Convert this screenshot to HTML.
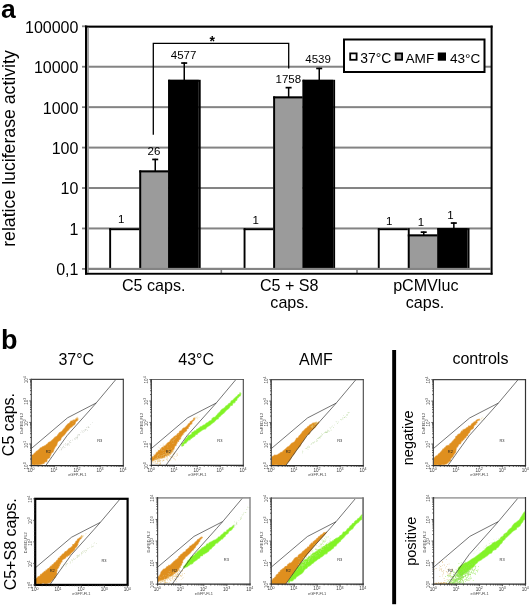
<!DOCTYPE html>
<html><head><meta charset="utf-8"><style>
html,body{margin:0;padding:0;background:#fff;width:530px;height:606px;overflow:hidden}
svg{display:block;will-change:transform}
text{font-family:"Liberation Sans",sans-serif}
</style></head><body>
<svg width="530" height="606" viewBox="0 0 530 606">
<rect width="530" height="606" fill="#fff"/>
<rect x="88" y="65.73" width="403" height="2" fill="#838383"/>
<rect x="88" y="106.16" width="403" height="2" fill="#838383"/>
<rect x="88" y="146.59" width="403" height="2" fill="#838383"/>
<rect x="88" y="187.02" width="403" height="2" fill="#838383"/>
<rect x="88" y="227.45" width="403" height="2" fill="#838383"/>
<rect x="88" y="267.88" width="403" height="2" fill="#838383"/>
<rect x="82" y="25.40" width="4" height="1.8" fill="#838383"/>
<rect x="82" y="65.83" width="4" height="1.8" fill="#838383"/>
<rect x="82" y="106.26" width="4" height="1.8" fill="#838383"/>
<rect x="82" y="146.69" width="4" height="1.8" fill="#838383"/>
<rect x="82" y="187.12" width="4" height="1.8" fill="#838383"/>
<rect x="82" y="227.55" width="4" height="1.8" fill="#838383"/>
<rect x="82" y="267.98" width="4" height="1.8" fill="#838383"/>
<rect x="220.5" y="269" width="1.6" height="4" fill="#838383"/>
<rect x="356.2" y="269" width="1.6" height="4" fill="#838383"/>
<rect x="85" y="25.6" width="407.6" height="2.1" fill="#000"/>
<rect x="85" y="25.6" width="2.3" height="249" fill="#000"/>
<rect x="87.3" y="27.7" width="1.6" height="245" fill="#9a9a9a"/>
<rect x="490.6" y="25.6" width="2" height="249" fill="#000"/>
<rect x="85" y="272.8" width="407.6" height="1.9" fill="#000"/>
<rect x="109.2" y="228.2" width="30.10000000000001" height="40.80000000000001" fill="#fff"/>
<rect x="139.3" y="170.4" width="28.899999999999977" height="98.6" fill="#9b9b9b"/>
<rect x="168.2" y="79.8" width="30.600000000000023" height="189.2" fill="#000"/>
<rect x="109.2" y="228.2" width="30.10000000000001" height="2" fill="#000"/>
<rect x="139.3" y="170.4" width="28.899999999999977" height="2" fill="#000"/>
<rect x="168.2" y="79.8" width="30.600000000000023" height="2" fill="#000"/>
<rect x="109.2" y="228.2" width="1.9" height="40.80000000000001" fill="#000"/>
<rect x="139.3" y="170.4" width="1.9" height="98.6" fill="#000"/>
<rect x="168.2" y="79.8" width="1.9" height="189.2" fill="#000"/>
<rect x="198.8" y="79.8" width="1.9" height="189.2" fill="#000"/>
<rect x="154.5" y="158.8" width="1.5" height="12.199999999999989" fill="#000"/>
<rect x="152.2" y="158.60000000000002" width="6" height="1.7" fill="#000"/>
<rect x="183.5" y="62.4" width="1.5" height="17.6" fill="#000"/>
<rect x="181.2" y="62.199999999999996" width="6" height="1.7" fill="#000"/>
<text x="121.3" y="223.2" font-size="11.5" text-anchor="middle" font-family="Liberation Sans, sans-serif">1</text>
<text x="154" y="155.2" font-size="11.5" text-anchor="middle" font-family="Liberation Sans, sans-serif">26</text>
<text x="183.6" y="58.6" font-size="11.5" text-anchor="middle" font-family="Liberation Sans, sans-serif">4577</text>
<rect x="243.6" y="228.2" width="29.599999999999994" height="40.80000000000001" fill="#fff"/>
<rect x="273.2" y="96.4" width="29.400000000000034" height="172.6" fill="#9b9b9b"/>
<rect x="302.6" y="79.8" width="30.599999999999966" height="189.2" fill="#000"/>
<rect x="243.6" y="228.2" width="29.599999999999994" height="2" fill="#000"/>
<rect x="273.2" y="96.4" width="29.400000000000034" height="2" fill="#000"/>
<rect x="302.6" y="79.8" width="30.599999999999966" height="2" fill="#000"/>
<rect x="243.6" y="228.2" width="1.9" height="40.80000000000001" fill="#000"/>
<rect x="273.2" y="96.4" width="1.9" height="172.6" fill="#000"/>
<rect x="302.6" y="79.8" width="1.9" height="189.2" fill="#000"/>
<rect x="333.2" y="79.8" width="1.9" height="189.2" fill="#000"/>
<rect x="287.90000000000003" y="87" width="1.5" height="10" fill="#000"/>
<rect x="285.6" y="86.8" width="6" height="1.7" fill="#000"/>
<rect x="318.5" y="67.8" width="1.5" height="12.200000000000003" fill="#000"/>
<rect x="316.2" y="67.6" width="6" height="1.7" fill="#000"/>
<text x="255.6" y="223.9" font-size="11.5" text-anchor="middle" font-family="Liberation Sans, sans-serif">1</text>
<text x="288.3" y="82.8" font-size="11.5" text-anchor="middle" font-family="Liberation Sans, sans-serif">1758</text>
<text x="318.1" y="63.3" font-size="11.5" text-anchor="middle" font-family="Liberation Sans, sans-serif">4539</text>
<rect x="377.8" y="228.2" width="30.0" height="40.80000000000001" fill="#fff"/>
<rect x="407.8" y="234.4" width="29.599999999999966" height="34.599999999999994" fill="#9b9b9b"/>
<rect x="437.4" y="228.2" width="30.200000000000045" height="40.80000000000001" fill="#000"/>
<rect x="377.8" y="228.2" width="30.0" height="2" fill="#000"/>
<rect x="407.8" y="234.4" width="29.599999999999966" height="2" fill="#000"/>
<rect x="437.4" y="228.2" width="30.200000000000045" height="2" fill="#000"/>
<rect x="377.8" y="228.2" width="1.9" height="40.80000000000001" fill="#000"/>
<rect x="407.8" y="228.2" width="1.9" height="40.80000000000001" fill="#000"/>
<rect x="437.4" y="228.2" width="1.9" height="40.80000000000001" fill="#000"/>
<rect x="467.6" y="228.2" width="1.9" height="40.80000000000001" fill="#000"/>
<rect x="423.0" y="231.5" width="1.5" height="3.5" fill="#000"/>
<rect x="420.7" y="231.3" width="6" height="1.7" fill="#000"/>
<rect x="453.1" y="222.4" width="1.5" height="6.0" fill="#000"/>
<rect x="450.8" y="222.20000000000002" width="6" height="1.7" fill="#000"/>
<rect x="88" y="267.88" width="403" height="2" fill="#838383"/>
<text x="389.2" y="224.5" font-size="11.5" text-anchor="middle" font-family="Liberation Sans, sans-serif">1</text>
<text x="421" y="225.7" font-size="11.5" text-anchor="middle" font-family="Liberation Sans, sans-serif">1</text>
<text x="450.4" y="218.7" font-size="11.5" text-anchor="middle" font-family="Liberation Sans, sans-serif">1</text>
<path d="M153.3 134.8 V43.4 H288.7 V68.4" fill="none" stroke="#000" stroke-width="1.3"/>
<text x="212.3" y="45.5" font-size="14" font-weight="bold" text-anchor="middle" font-family="Liberation Sans, sans-serif">*</text>
<rect x="344" y="39.5" width="140.5" height="32.5" fill="#fff" stroke="#000" stroke-width="2"/>
<rect x="350.2" y="53.4" width="6.4" height="6.4" fill="#fff" stroke="#000" stroke-width="1.8"/>
<rect x="395.7" y="53.4" width="6.4" height="6.4" fill="#9b9b9b" stroke="#000" stroke-width="1.8"/>
<rect x="438.7" y="53.4" width="6.4" height="6.4" fill="#000" stroke="#000" stroke-width="1.8"/>
<text x="360.3" y="62.8" font-size="13.9" font-family="Liberation Sans, sans-serif">37°C</text>
<text x="405.5" y="62.8" font-size="13.6" font-family="Liberation Sans, sans-serif">AMF</text>
<text x="450" y="62.8" font-size="13.6" font-family="Liberation Sans, sans-serif">43°C</text>
<text x="78.4" y="32.70" font-size="16" text-anchor="end" font-family="Liberation Sans, sans-serif">100000</text>
<text x="78.4" y="73.13" font-size="16" text-anchor="end" font-family="Liberation Sans, sans-serif">10000</text>
<text x="78.4" y="113.56" font-size="16" text-anchor="end" font-family="Liberation Sans, sans-serif">1000</text>
<text x="78.4" y="153.99" font-size="16" text-anchor="end" font-family="Liberation Sans, sans-serif">100</text>
<text x="78.4" y="194.42" font-size="16" text-anchor="end" font-family="Liberation Sans, sans-serif">10</text>
<text x="78.4" y="234.85" font-size="16" text-anchor="end" font-family="Liberation Sans, sans-serif">1</text>
<text x="78.4" y="275.28" font-size="16" text-anchor="end" font-family="Liberation Sans, sans-serif">0,1</text>
<text transform="translate(14.9,148.5) rotate(-90)" font-size="17.7" text-anchor="middle" font-family="Liberation Sans, sans-serif">relatice luciferase activity</text>
<text x="153.7" y="290.5" font-size="16.1" text-anchor="middle" font-family="Liberation Sans, sans-serif">C5 caps.</text>
<text x="289.2" y="290.8" font-size="16.1" text-anchor="middle" font-family="Liberation Sans, sans-serif">C5 + S8</text>
<text x="289.6" y="308.2" font-size="16.1" text-anchor="middle" font-family="Liberation Sans, sans-serif">caps.</text>
<text x="425.8" y="290.8" font-size="16.1" text-anchor="middle" font-family="Liberation Sans, sans-serif">pCMVluc</text>
<text x="425" y="308.2" font-size="16.1" text-anchor="middle" font-family="Liberation Sans, sans-serif">caps.</text>
<text x="1" y="17.8" font-size="26.5" font-weight="bold" font-family="Liberation Sans, sans-serif">a</text>
<text x="1" y="349.2" font-size="27" font-weight="bold" font-family="Liberation Sans, sans-serif">b</text>
<text x="76.3" y="364.5" font-size="16" text-anchor="middle" font-family="Liberation Sans, sans-serif">37°C</text>
<text x="196.2" y="364.5" font-size="16" text-anchor="middle" font-family="Liberation Sans, sans-serif">43°C</text>
<text x="316" y="364.5" font-size="16" text-anchor="middle" font-family="Liberation Sans, sans-serif">AMF</text>
<text x="480.4" y="364" font-size="16" text-anchor="middle" font-family="Liberation Sans, sans-serif">controls</text>
<text transform="translate(14,424.6) rotate(-90)" font-size="16" text-anchor="middle" font-family="Liberation Sans, sans-serif">C5 caps.</text>
<text transform="translate(15.6,544.3) rotate(-90)" font-size="16" text-anchor="middle" font-family="Liberation Sans, sans-serif">C5+S8 caps.</text>
<text transform="translate(413.3,437.8) rotate(-90)" font-size="14.5" text-anchor="middle" font-family="Liberation Sans, sans-serif">negative</text>
<text transform="translate(415.8,541.2) rotate(-90)" font-size="14.5" text-anchor="middle" font-family="Liberation Sans, sans-serif">positive</text>
<rect x="392.2" y="350" width="3.9" height="254.2" fill="#000"/>
<polygon points="31.30,464.71 31.47,463.12 31.34,461.92 31.30,460.56 31.30,458.97 31.30,457.11 31.30,456.37 31.77,455.01 33.22,455.03 34.05,453.73 35.38,452.63 36.14,452.15 36.24,451.24 37.25,451.30 37.94,450.40 39.27,449.53 40.00,448.55 40.29,448.03 41.80,447.60 42.13,447.32 43.02,446.58 44.14,446.55 44.27,445.97 45.31,445.84 46.27,444.79 47.47,443.88 47.77,443.81 48.40,442.80 49.19,442.25 50.91,441.42 51.95,440.42 53.44,439.12 55.00,437.39 56.98,436.30 58.26,434.42 59.49,432.86 61.82,431.57 63.67,429.20 64.85,427.96 66.10,426.11 67.92,424.12 69.45,423.16 71.19,420.98 72.43,421.14 73.03,420.22 74.50,420.18 75.75,419.67 76.10,418.72 77.14,418.71 77.88,418.07 77.10,418.27 77.24,418.65 77.71,418.53 77.14,418.81 77.62,419.07 77.46,420.31 76.18,421.34 75.56,421.86 75.01,423.72 74.19,424.84 72.86,425.53 71.42,426.97 70.25,427.57 69.30,428.86 68.32,429.94 66.83,431.23 65.82,432.64 64.51,434.49 63.93,435.06 62.31,436.58 61.20,437.67 60.51,439.89 58.86,440.69 57.61,441.77 57.07,443.42 56.78,444.79 55.06,447.08 54.79,447.73 53.98,449.08 53.30,451.13 53.01,451.90 51.69,452.62 50.93,454.10 50.67,455.17 49.79,455.66 49.92,457.03 49.57,457.44 49.13,457.96 48.08,458.31 47.82,458.40 47.06,459.25 46.81,460.23 47.08,460.54 46.55,461.66 46.06,461.57 44.75,461.99 44.21,462.53 43.93,463.47 43.42,463.27 42.46,463.83 41.08,463.92 41.24,464.27 40.32,464.19 38.23,464.58 36.94,464.66 36.19,464.32 34.10,464.96 33.00,464.23 31.30,464.28 31.75,465.03 31.30,465.12 31.83,465.02 31.30,464.98 31.30,464.50" fill="#df8f1e" opacity="1" stroke="#df8f1e" stroke-width="1.2" stroke-opacity="0.65" stroke-linejoin="round"/>
<path d="M90.3 423.9h0.6v0.6h-0.6zM87.8 426.7h0.6v0.6h-0.6zM86.5 429.4h0.6v0.6h-0.6zM68.7 443.8h0.6v0.6h-0.6zM67.0 443.6h0.6v0.6h-0.6zM88.3 427.4h0.6v0.6h-0.6zM79.2 434.3h0.6v0.6h-0.6zM87.9 426.3h0.6v0.6h-0.6zM77.4 436.6h0.6v0.6h-0.6zM66.9 445.3h0.6v0.6h-0.6zM62.9 445.8h0.6v0.6h-0.6zM76.7 436.7h0.6v0.6h-0.6zM77.4 435.2h0.6v0.6h-0.6zM77.5 436.4h0.6v0.6h-0.6zM83.1 430.0h0.6v0.6h-0.6zM85.1 429.8h0.6v0.6h-0.6zM77.9 434.1h0.6v0.6h-0.6zM80.5 432.5h0.6v0.6h-0.6zM76.3 437.1h0.6v0.6h-0.6zM88.7 427.1h0.6v0.6h-0.6zM79.4 434.9h0.6v0.6h-0.6zM64.3 447.2h0.6v0.6h-0.6zM61.3 448.5h0.6v0.6h-0.6zM81.6 430.6h0.6v0.6h-0.6zM63.7 444.5h0.6v0.6h-0.6zM65.8 444.5h0.6v0.6h-0.6zM67.2 444.0h0.6v0.6h-0.6zM77.1 437.3h0.6v0.6h-0.6zM63.0 446.4h0.6v0.6h-0.6zM70.5 442.1h0.6v0.6h-0.6zM84.2 431.5h0.6v0.6h-0.6zM74.5 438.7h0.6v0.6h-0.6zM79.2 433.9h0.6v0.6h-0.6zM92.2 421.9h0.6v0.6h-0.6zM62.3 447.6h0.6v0.6h-0.6zM84.6 430.4h0.6v0.6h-0.6zM74.6 438.1h0.6v0.6h-0.6zM68.9 445.2h0.6v0.6h-0.6zM77.7 434.8h0.6v0.6h-0.6zM60.4 447.5h0.6v0.6h-0.6zM62.7 447.6h0.6v0.6h-0.6zM87.3 430.3h0.6v0.6h-0.6zM61.9 447.4h0.6v0.6h-0.6zM67.7 440.5h0.6v0.6h-0.6zM68.7 444.0h0.6v0.6h-0.6zM67.3 444.2h0.6v0.6h-0.6zM60.9 449.6h0.6v0.6h-0.6zM69.1 441.3h0.6v0.6h-0.6zM75.9 437.9h0.6v0.6h-0.6zM59.5 449.7h0.6v0.6h-0.6zM82.5 430.9h0.6v0.6h-0.6zM75.1 437.5h0.6v0.6h-0.6zM84.8 429.3h0.6v0.6h-0.6zM85.5 429.2h0.6v0.6h-0.6zM82.7 432.1h0.6v0.6h-0.6zM86.0 427.1h0.6v0.6h-0.6zM72.1 439.8h0.6v0.6h-0.6zM64.8 447.4h0.6v0.6h-0.6zM67.6 443.8h0.6v0.6h-0.6zM87.9 427.2h0.6v0.6h-0.6zM68.3 443.6h0.6v0.6h-0.6zM74.8 439.1h0.6v0.6h-0.6zM70.5 442.5h0.6v0.6h-0.6zM77.1 438.6h0.6v0.6h-0.6zM69.1 442.0h0.6v0.6h-0.6zM70.3 440.3h0.6v0.6h-0.6zM65.4 444.8h0.6v0.6h-0.6zM68.6 443.7h0.6v0.6h-0.6zM61.2 449.0h0.6v0.6h-0.6zM65.4 443.3h0.6v0.6h-0.6z" fill="#b0b8a8" opacity="0.8"/>
<path d="M76.5 417.4h0.6v0.6h-0.6zM77.6 418.4h0.6v0.6h-0.6zM79.9 418.5h0.6v0.6h-0.6zM78.2 419.6h0.6v0.6h-0.6zM77.3 416.8h0.6v0.6h-0.6zM78.5 419.1h0.6v0.6h-0.6zM76.3 418.5h0.6v0.6h-0.6zM76.2 417.3h0.6v0.6h-0.6zM76.6 418.3h0.6v0.6h-0.6zM72.6 422.9h0.6v0.6h-0.6zM73.2 421.0h0.6v0.6h-0.6zM75.4 418.3h0.6v0.6h-0.6z" fill="#e8d090" opacity="0.8"/>
<polyline points="31.30,448.54 67.55,417.80 96.16,402.99" fill="none" stroke="#2a2a2a" stroke-width="0.65"/>
<polyline points="45.84,465.50 56.14,450.86 67.00,435.71 90.00,409.97 96.16,402.99 115.94,379.40" fill="none" stroke="#2a2a2a" stroke-width="0.65"/>
<path d="M31.3 379.4H123.3" stroke="#444" stroke-width="1.1"/>
<path d="M123.3 378.84999999999997V465.5" stroke="#333" stroke-width="1.1"/>
<path d="M31.3 378.84999999999997V466.1" stroke="#484848" stroke-width="1.15"/>
<path d="M30.7 465.5H123.85" stroke="#2a2a2a" stroke-width="1.25"/>
<path d="M31.30 465.5v2.0M31.3 465.50h-2.0M38.22 465.5v1.3M31.3 459.02h-1.3M42.27 465.5v1.3M31.3 455.23h-1.3M45.15 465.5v1.3M31.3 452.54h-1.3M47.38 465.5v1.3M31.3 450.45h-1.3M49.20 465.5v1.3M31.3 448.75h-1.3M50.74 465.5v1.3M31.3 447.31h-1.3M52.07 465.5v1.3M31.3 446.06h-1.3M53.25 465.5v1.3M31.3 444.96h-1.3M54.30 465.5v2.0M31.3 443.98h-2.0M61.22 465.5v1.3M31.3 437.50h-1.3M65.27 465.5v1.3M31.3 433.70h-1.3M68.15 465.5v1.3M31.3 431.02h-1.3M70.38 465.5v1.3M31.3 428.93h-1.3M72.20 465.5v1.3M31.3 427.23h-1.3M73.74 465.5v1.3M31.3 425.78h-1.3M75.07 465.5v1.3M31.3 424.54h-1.3M76.25 465.5v1.3M31.3 423.43h-1.3M77.30 465.5v2.0M31.3 422.45h-2.0M84.22 465.5v1.3M31.3 415.97h-1.3M88.27 465.5v1.3M31.3 412.18h-1.3M91.15 465.5v1.3M31.3 409.49h-1.3M93.38 465.5v1.3M31.3 407.40h-1.3M95.20 465.5v1.3M31.3 405.70h-1.3M96.74 465.5v1.3M31.3 404.26h-1.3M98.07 465.5v1.3M31.3 403.01h-1.3M99.25 465.5v1.3M31.3 401.91h-1.3M100.30 465.5v2.0M31.3 400.92h-2.0M107.22 465.5v1.3M31.3 394.45h-1.3M111.27 465.5v1.3M31.3 390.65h-1.3M114.15 465.5v1.3M31.3 387.97h-1.3M116.38 465.5v1.3M31.3 385.88h-1.3M118.20 465.5v1.3M31.3 384.18h-1.3M119.74 465.5v1.3M31.3 382.73h-1.3M121.07 465.5v1.3M31.3 381.49h-1.3M122.25 465.5v1.3M31.3 380.38h-1.3M123.3 465.5v2M31.3 379.4h-2" stroke="#333" stroke-width="0.8" fill="none"/>
<text x="31.0" y="471.8" font-size="4.6" fill="#3a3a3a" text-anchor="middle" font-family="Liberation Sans, sans-serif">10<tspan dy="-1.7" font-size="3.6">0</tspan></text>
<text transform="translate(28.0,465.9) rotate(-90)" font-size="4.6" fill="#3a3a3a" text-anchor="middle" font-family="Liberation Sans, sans-serif">10<tspan dy="-1.7" font-size="3.6">0</tspan></text>
<text x="54.0" y="471.8" font-size="4.6" fill="#3a3a3a" text-anchor="middle" font-family="Liberation Sans, sans-serif">10<tspan dy="-1.7" font-size="3.6">1</tspan></text>
<text transform="translate(28.0,444.4) rotate(-90)" font-size="4.6" fill="#3a3a3a" text-anchor="middle" font-family="Liberation Sans, sans-serif">10<tspan dy="-1.7" font-size="3.6">1</tspan></text>
<text x="77.0" y="471.8" font-size="4.6" fill="#3a3a3a" text-anchor="middle" font-family="Liberation Sans, sans-serif">10<tspan dy="-1.7" font-size="3.6">2</tspan></text>
<text transform="translate(28.0,422.8) rotate(-90)" font-size="4.6" fill="#3a3a3a" text-anchor="middle" font-family="Liberation Sans, sans-serif">10<tspan dy="-1.7" font-size="3.6">2</tspan></text>
<text x="100.0" y="471.8" font-size="4.6" fill="#3a3a3a" text-anchor="middle" font-family="Liberation Sans, sans-serif">10<tspan dy="-1.7" font-size="3.6">3</tspan></text>
<text transform="translate(28.0,401.3) rotate(-90)" font-size="4.6" fill="#3a3a3a" text-anchor="middle" font-family="Liberation Sans, sans-serif">10<tspan dy="-1.7" font-size="3.6">3</tspan></text>
<text x="123.0" y="471.8" font-size="4.6" fill="#3a3a3a" text-anchor="middle" font-family="Liberation Sans, sans-serif">10<tspan dy="-1.7" font-size="3.6">4</tspan></text>
<text transform="translate(28.0,379.8) rotate(-90)" font-size="4.6" fill="#3a3a3a" text-anchor="middle" font-family="Liberation Sans, sans-serif">10<tspan dy="-1.7" font-size="3.6">4</tspan></text>
<text x="77.3" y="476.0" font-size="3.9" fill="#444" text-anchor="middle" font-family="Liberation Sans, sans-serif">eGFP-FL1</text>
<text transform="translate(23.3,423.3) rotate(-90)" font-size="3.9" fill="#444" text-anchor="middle" font-family="Liberation Sans, sans-serif">DsRED-FL2</text>
<text x="99.8" y="442.3" font-size="4" fill="#333" text-anchor="middle" font-family="Liberation Sans, sans-serif">R3</text>
<text x="48.3" y="453.0" font-size="4" fill="#222" text-anchor="middle" font-family="Liberation Sans, sans-serif">R2</text>
<polygon points="151.40,457.59 151.94,458.20 151.83,457.82 152.22,457.18 152.52,457.21 152.00,457.07 152.94,456.85 153.64,456.97 154.06,455.69 154.73,455.32 155.74,454.58 156.29,453.35 156.43,452.86 157.84,452.16 158.40,451.10 158.59,450.60 160.01,450.28 160.77,449.11 161.34,448.53 162.05,447.58 163.29,447.08 164.15,447.25 163.86,446.17 165.51,446.11 165.86,444.80 166.21,444.91 166.83,443.95 167.36,443.31 168.87,442.32 169.34,442.12 170.02,441.73 169.91,441.31 170.81,439.80 170.89,439.66 171.99,438.85 172.26,438.28 173.07,438.18 173.61,437.30 175.42,435.86 176.41,435.68 177.27,434.46 177.57,433.78 179.15,433.19 179.31,432.24 180.07,431.06 180.74,431.08 181.80,430.40 182.61,428.92 183.76,428.06 184.50,428.05 185.95,427.10 186.56,426.40 187.79,425.22 188.43,423.90 189.34,423.52 190.08,423.07 190.28,421.81 191.71,421.25 191.93,420.83 192.46,420.59 193.92,419.45 193.74,419.25 193.80,419.11 193.54,418.62 193.75,419.15 194.24,418.20 194.86,418.75 194.38,418.00 194.13,418.08 194.33,418.21 194.24,418.51 194.64,419.28 194.87,418.92 194.30,419.31 194.06,419.39 193.51,419.60 194.31,419.72 193.60,420.51 193.80,420.35 192.43,421.32 191.85,422.45 191.74,423.80 190.93,423.88 189.28,425.51 189.52,426.20 188.75,426.32 188.10,427.87 188.15,428.40 187.88,428.38 186.50,428.88 186.53,430.03 186.53,430.60 185.75,431.17 185.08,431.48 184.16,432.25 183.91,432.92 183.91,432.81 182.91,433.38 183.04,434.45 182.03,434.42 182.06,435.56 181.48,435.81 181.29,436.20 180.34,437.56 180.46,438.63 179.76,439.35 178.43,440.00 178.62,441.36 177.29,441.54 176.92,443.25 176.25,443.85 175.94,445.57 174.87,445.68 174.41,447.11 174.21,447.91 173.74,449.37 172.82,449.72 172.73,450.73 171.97,451.55 170.71,453.00 170.20,454.10 169.67,453.68 168.62,454.29 168.35,455.21 167.03,455.01 166.35,455.98 165.53,455.40 164.67,456.13 164.83,457.00 163.88,457.49 163.33,457.18 161.74,458.18 161.60,457.62 160.76,458.12 159.69,458.21 158.71,458.02 158.08,458.52 158.07,458.43 157.33,458.66 155.97,459.53 155.80,459.37 154.26,459.66 153.92,460.36 153.04,460.03 153.12,459.93 152.37,460.85 152.55,460.17 151.53,460.31 152.29,460.63 151.89,461.40 151.40,460.87 151.90,460.72 151.40,460.33 151.40,459.37 151.40,459.36 151.86,458.74" fill="#df8f1e" opacity="1" stroke="#df8f1e" stroke-width="1.2" stroke-opacity="0.65" stroke-linejoin="round"/>
<polygon points="182.22,444.29 181.62,444.40 182.60,444.54 182.15,443.45 182.38,443.35 183.12,442.67 183.16,442.88 184.14,441.84 184.85,440.31 185.48,439.27 186.94,437.91 187.24,437.53 188.25,435.75 188.95,435.46 190.20,435.11 191.75,434.33 192.01,432.62 192.75,432.26 194.36,431.41 194.48,430.95 195.55,430.79 196.34,430.54 196.89,429.36 197.73,429.11 198.07,428.76 199.68,427.65 200.56,426.77 201.88,426.50 203.78,424.99 205.00,424.75 206.55,423.03 208.09,422.58 209.50,421.12 210.14,420.98 211.76,420.19 212.08,418.66 213.38,417.66 215.35,417.04 216.33,415.79 217.28,414.84 217.64,414.15 219.42,412.42 220.06,411.92 220.93,410.57 222.14,409.32 223.55,408.64 225.27,407.14 225.85,406.18 227.87,404.95 228.82,403.69 230.70,402.77 231.24,401.04 232.95,400.22 234.57,398.48 235.39,397.83 236.38,396.67 236.99,396.63 237.72,395.50 238.49,394.62 239.77,394.49 239.93,392.93 240.49,393.08 239.84,393.94 240.46,394.00 240.59,394.21 240.81,393.61 240.47,394.16 240.28,395.64 238.80,396.46 238.24,397.46 237.12,398.35 236.66,400.13 235.33,400.79 234.75,402.60 232.73,403.05 232.21,405.24 230.35,405.61 229.49,407.27 228.12,408.83 226.75,409.67 225.42,411.05 223.71,413.01 222.89,413.65 220.93,415.19 219.98,416.49 218.52,417.24 218.15,418.79 216.37,419.34 216.14,419.68 215.20,420.65 213.91,421.99 212.73,422.68 211.29,423.91 210.09,424.93 208.90,425.65 207.22,426.78 206.53,427.33 205.41,428.85 203.65,429.19 202.24,430.08 200.43,431.37 198.97,432.34 198.00,432.89 197.50,433.33 196.96,434.45 196.08,434.10 195.42,434.84 195.27,434.99 194.53,436.28 193.46,436.81 191.93,437.69 191.32,438.38 190.86,438.28 189.78,439.79 188.05,439.91 188.14,440.35 187.62,441.12 186.85,441.62 185.83,443.07 184.84,443.04 184.49,443.74 183.61,443.96 183.38,445.09 183.58,445.41 182.65,445.65 182.22,445.75 182.43,445.93 182.60,445.91 182.18,446.04 181.57,445.94 182.05,445.10 182.15,444.76" fill="#82f326" opacity="1" stroke="#82f326" stroke-width="1.2" stroke-opacity="0.65" stroke-linejoin="round"/>
<path d="M171.9 450.6h0.7v0.7h-0.7zM167.8 454.9h0.7v0.7h-0.7zM173.8 455.9h0.7v0.7h-0.7zM153.5 454.3h0.7v0.7h-0.7zM164.4 454.4h0.7v0.7h-0.7zM154.8 463.1h0.7v0.7h-0.7zM163.2 457.2h0.7v0.7h-0.7zM173.5 454.2h0.7v0.7h-0.7zM167.2 455.6h0.7v0.7h-0.7zM162.8 460.4h0.7v0.7h-0.7zM154.8 458.6h0.7v0.7h-0.7zM155.3 458.5h0.7v0.7h-0.7zM158.0 460.6h0.7v0.7h-0.7zM159.6 463.2h0.7v0.7h-0.7zM172.2 450.5h0.7v0.7h-0.7zM162.8 460.1h0.7v0.7h-0.7zM162.8 459.5h0.7v0.7h-0.7zM166.8 456.3h0.7v0.7h-0.7zM159.2 459.6h0.7v0.7h-0.7zM162.8 457.9h0.7v0.7h-0.7zM154.6 461.8h0.7v0.7h-0.7zM166.3 456.2h0.7v0.7h-0.7zM154.9 458.7h0.7v0.7h-0.7zM167.5 454.2h0.7v0.7h-0.7zM159.5 460.1h0.7v0.7h-0.7zM172.9 448.9h0.7v0.7h-0.7zM155.9 459.2h0.7v0.7h-0.7zM162.9 454.8h0.7v0.7h-0.7zM159.6 461.5h0.7v0.7h-0.7zM170.4 451.7h0.7v0.7h-0.7zM156.1 458.9h0.7v0.7h-0.7zM167.8 453.7h0.7v0.7h-0.7zM168.7 455.3h0.7v0.7h-0.7zM174.0 453.2h0.7v0.7h-0.7zM158.0 454.0h0.7v0.7h-0.7zM166.4 459.2h0.7v0.7h-0.7zM160.6 464.8h0.7v0.7h-0.7zM165.1 452.2h0.7v0.7h-0.7zM168.8 452.8h0.7v0.7h-0.7zM169.8 452.9h0.7v0.7h-0.7zM166.4 453.8h0.7v0.7h-0.7zM156.9 459.7h0.7v0.7h-0.7zM172.9 453.1h0.7v0.7h-0.7zM157.8 460.6h0.7v0.7h-0.7zM157.0 461.4h0.7v0.7h-0.7zM165.0 452.1h0.7v0.7h-0.7zM172.2 456.0h0.7v0.7h-0.7zM163.0 454.4h0.7v0.7h-0.7zM177.2 455.0h0.7v0.7h-0.7zM173.8 452.2h0.7v0.7h-0.7zM158.1 461.0h0.7v0.7h-0.7zM172.6 450.0h0.7v0.7h-0.7zM169.1 452.0h0.7v0.7h-0.7zM159.1 464.2h0.7v0.7h-0.7zM156.4 463.0h0.7v0.7h-0.7zM153.6 464.7h0.7v0.7h-0.7zM166.7 456.5h0.7v0.7h-0.7zM168.2 451.9h0.7v0.7h-0.7zM169.1 456.4h0.7v0.7h-0.7zM162.8 455.6h0.7v0.7h-0.7zM166.3 454.5h0.7v0.7h-0.7zM175.8 455.8h0.7v0.7h-0.7zM158.7 460.9h0.7v0.7h-0.7zM169.6 454.3h0.7v0.7h-0.7zM158.7 457.6h0.7v0.7h-0.7zM154.6 460.8h0.7v0.7h-0.7zM170.4 459.7h0.7v0.7h-0.7zM160.2 463.6h0.7v0.7h-0.7zM166.8 459.6h0.7v0.7h-0.7zM156.0 458.0h0.7v0.7h-0.7zM168.1 452.3h0.7v0.7h-0.7zM157.1 461.7h0.7v0.7h-0.7zM155.5 461.5h0.7v0.7h-0.7zM159.7 460.9h0.7v0.7h-0.7zM154.9 461.0h0.7v0.7h-0.7zM169.3 450.7h0.7v0.7h-0.7zM159.9 460.3h0.7v0.7h-0.7zM168.7 449.8h0.7v0.7h-0.7zM152.4 462.6h0.7v0.7h-0.7zM167.6 458.4h0.7v0.7h-0.7zM172.1 454.6h0.7v0.7h-0.7zM158.1 454.7h0.7v0.7h-0.7zM157.7 462.7h0.7v0.7h-0.7zM158.5 459.0h0.7v0.7h-0.7zM174.3 458.6h0.7v0.7h-0.7zM169.7 451.2h0.7v0.7h-0.7zM156.5 459.7h0.7v0.7h-0.7zM157.0 461.0h0.7v0.7h-0.7zM162.8 454.5h0.7v0.7h-0.7zM161.7 455.1h0.7v0.7h-0.7zM154.0 459.6h0.7v0.7h-0.7zM171.3 453.1h0.7v0.7h-0.7zM165.4 453.7h0.7v0.7h-0.7zM157.1 455.0h0.7v0.7h-0.7zM167.9 449.4h0.7v0.7h-0.7zM165.7 453.0h0.7v0.7h-0.7zM159.0 458.5h0.7v0.7h-0.7zM163.0 454.1h0.7v0.7h-0.7zM166.5 458.5h0.7v0.7h-0.7zM160.8 455.9h0.7v0.7h-0.7zM169.1 454.6h0.7v0.7h-0.7zM167.6 453.0h0.7v0.7h-0.7zM164.4 457.2h0.7v0.7h-0.7zM167.3 460.6h0.7v0.7h-0.7zM171.9 452.2h0.7v0.7h-0.7zM161.1 455.4h0.7v0.7h-0.7zM160.7 453.4h0.7v0.7h-0.7zM158.6 460.3h0.7v0.7h-0.7zM156.6 458.1h0.7v0.7h-0.7zM175.1 459.5h0.7v0.7h-0.7zM162.8 459.6h0.7v0.7h-0.7zM164.5 458.6h0.7v0.7h-0.7zM161.3 455.9h0.7v0.7h-0.7zM159.6 464.0h0.7v0.7h-0.7zM171.2 452.0h0.7v0.7h-0.7zM168.7 455.0h0.7v0.7h-0.7zM156.8 456.8h0.7v0.7h-0.7zM163.2 456.4h0.7v0.7h-0.7zM160.5 459.8h0.7v0.7h-0.7zM168.9 451.4h0.7v0.7h-0.7zM162.2 460.7h0.7v0.7h-0.7zM157.2 459.3h0.7v0.7h-0.7zM170.9 455.8h0.7v0.7h-0.7zM157.0 460.7h0.7v0.7h-0.7zM152.9 460.7h0.7v0.7h-0.7zM157.4 462.9h0.7v0.7h-0.7zM159.7 455.2h0.7v0.7h-0.7zM165.8 456.6h0.7v0.7h-0.7zM157.3 457.2h0.7v0.7h-0.7zM173.1 457.8h0.7v0.7h-0.7zM167.0 455.8h0.7v0.7h-0.7zM172.2 450.6h0.7v0.7h-0.7zM156.6 463.2h0.7v0.7h-0.7zM168.7 455.4h0.7v0.7h-0.7zM172.8 451.2h0.7v0.7h-0.7zM168.3 450.0h0.7v0.7h-0.7zM171.2 452.6h0.7v0.7h-0.7zM172.3 457.2h0.7v0.7h-0.7zM164.3 454.1h0.7v0.7h-0.7zM169.9 452.3h0.7v0.7h-0.7zM160.2 462.5h0.7v0.7h-0.7zM153.0 462.5h0.7v0.7h-0.7zM160.2 457.4h0.7v0.7h-0.7zM176.8 453.4h0.7v0.7h-0.7zM159.4 456.1h0.7v0.7h-0.7zM169.0 455.3h0.7v0.7h-0.7zM177.0 453.8h0.7v0.7h-0.7zM170.4 456.3h0.7v0.7h-0.7zM169.9 454.2h0.7v0.7h-0.7zM170.8 451.7h0.7v0.7h-0.7zM176.5 453.7h0.7v0.7h-0.7zM163.6 460.2h0.7v0.7h-0.7zM157.7 459.2h0.7v0.7h-0.7zM170.2 456.9h0.7v0.7h-0.7zM157.3 456.5h0.7v0.7h-0.7zM160.7 457.2h0.7v0.7h-0.7zM163.4 460.2h0.7v0.7h-0.7zM171.1 448.2h0.7v0.7h-0.7zM159.3 461.1h0.7v0.7h-0.7zM162.4 452.9h0.7v0.7h-0.7zM153.1 457.1h0.7v0.7h-0.7zM167.0 457.4h0.7v0.7h-0.7zM163.4 452.2h0.7v0.7h-0.7zM169.6 450.4h0.7v0.7h-0.7zM165.3 452.5h0.7v0.7h-0.7z" fill="#e4bc70" opacity="0.85"/>
<path d="M172.3 443.3h0.6v0.6h-0.6zM166.6 443.9h0.6v0.6h-0.6zM163.2 450.1h0.6v0.6h-0.6zM176.0 435.4h0.6v0.6h-0.6zM175.4 436.2h0.6v0.6h-0.6zM161.3 449.8h0.6v0.6h-0.6zM160.9 448.1h0.6v0.6h-0.6zM179.7 437.2h0.6v0.6h-0.6zM159.4 454.0h0.6v0.6h-0.6zM171.0 441.7h0.6v0.6h-0.6zM154.5 453.8h0.6v0.6h-0.6zM179.6 436.2h0.6v0.6h-0.6zM167.6 446.9h0.6v0.6h-0.6zM161.1 449.1h0.6v0.6h-0.6zM155.7 451.6h0.6v0.6h-0.6zM181.4 437.7h0.6v0.6h-0.6zM161.9 450.6h0.6v0.6h-0.6zM161.4 447.3h0.6v0.6h-0.6zM157.6 449.0h0.6v0.6h-0.6zM175.6 437.1h0.6v0.6h-0.6zM169.9 439.9h0.6v0.6h-0.6zM177.3 440.9h0.6v0.6h-0.6zM172.8 440.2h0.6v0.6h-0.6zM171.3 440.7h0.6v0.6h-0.6zM163.0 446.1h0.6v0.6h-0.6zM175.1 437.8h0.6v0.6h-0.6zM162.7 445.4h0.6v0.6h-0.6zM173.6 443.3h0.6v0.6h-0.6zM162.8 444.4h0.6v0.6h-0.6zM163.2 447.3h0.6v0.6h-0.6zM178.2 434.1h0.6v0.6h-0.6zM167.3 449.2h0.6v0.6h-0.6zM172.9 439.1h0.6v0.6h-0.6zM173.3 441.6h0.6v0.6h-0.6zM169.1 443.9h0.6v0.6h-0.6zM174.4 439.1h0.6v0.6h-0.6zM172.5 440.3h0.6v0.6h-0.6zM163.9 447.7h0.6v0.6h-0.6zM162.8 443.6h0.6v0.6h-0.6zM179.7 438.1h0.6v0.6h-0.6zM176.3 436.9h0.6v0.6h-0.6zM164.3 445.3h0.6v0.6h-0.6zM173.2 439.9h0.6v0.6h-0.6zM154.9 450.0h0.6v0.6h-0.6zM160.6 445.1h0.6v0.6h-0.6zM159.2 446.9h0.6v0.6h-0.6zM167.1 445.8h0.6v0.6h-0.6zM173.8 437.8h0.6v0.6h-0.6zM159.1 448.2h0.6v0.6h-0.6zM157.9 446.8h0.6v0.6h-0.6z" fill="#e8c888" opacity="0.7"/>
<path d="M197.5 415.7h0.6v0.6h-0.6zM197.1 417.2h0.6v0.6h-0.6zM194.4 416.9h0.6v0.6h-0.6zM195.9 417.3h0.6v0.6h-0.6zM197.5 418.6h0.6v0.6h-0.6zM196.8 417.9h0.6v0.6h-0.6zM198.7 417.1h0.6v0.6h-0.6zM195.4 417.2h0.6v0.6h-0.6zM195.7 418.0h0.6v0.6h-0.6zM195.7 416.6h0.6v0.6h-0.6zM196.0 417.1h0.6v0.6h-0.6zM198.9 414.2h0.6v0.6h-0.6zM195.7 417.6h0.6v0.6h-0.6zM194.9 417.8h0.6v0.6h-0.6zM197.4 416.0h0.6v0.6h-0.6z" fill="#e8d8a0" opacity="0.8"/>
<polyline points="151.40,448.48 187.61,417.81 216.19,403.04" fill="none" stroke="#2a2a2a" stroke-width="0.65"/>
<polyline points="165.92,465.40 176.21,450.80 187.06,435.68 210.03,409.99 216.19,403.04 235.95,379.50" fill="none" stroke="#2a2a2a" stroke-width="0.65"/>
<path d="M151.4 379.5H243.3" stroke="#666" stroke-width="1.1"/>
<path d="M243.3 378.95V465.4" stroke="#444" stroke-width="1.1"/>
<path d="M151.4 378.95V466.0" stroke="#484848" stroke-width="1.15"/>
<path d="M150.8 465.4H243.85000000000002" stroke="#2a2a2a" stroke-width="1.25"/>
<path d="M151.40 465.4v2.0M151.4 465.40h-2.0M158.32 465.4v1.3M151.4 458.94h-1.3M162.36 465.4v1.3M151.4 455.15h-1.3M165.23 465.4v1.3M151.4 452.47h-1.3M167.46 465.4v1.3M151.4 450.39h-1.3M169.28 465.4v1.3M151.4 448.69h-1.3M170.82 465.4v1.3M151.4 447.25h-1.3M172.15 465.4v1.3M151.4 446.01h-1.3M173.32 465.4v1.3M151.4 444.91h-1.3M174.38 465.4v2.0M151.4 443.92h-2.0M181.29 465.4v1.3M151.4 437.46h-1.3M185.34 465.4v1.3M151.4 433.68h-1.3M188.21 465.4v1.3M151.4 431.00h-1.3M190.43 465.4v1.3M151.4 428.91h-1.3M192.25 465.4v1.3M151.4 427.21h-1.3M193.79 465.4v1.3M151.4 425.78h-1.3M195.12 465.4v1.3M151.4 424.53h-1.3M196.30 465.4v1.3M151.4 423.43h-1.3M197.35 465.4v2.0M151.4 422.45h-2.0M204.27 465.4v1.3M151.4 415.99h-1.3M208.31 465.4v1.3M151.4 412.20h-1.3M211.18 465.4v1.3M151.4 409.52h-1.3M213.41 465.4v1.3M151.4 407.44h-1.3M215.23 465.4v1.3M151.4 405.74h-1.3M216.77 465.4v1.3M151.4 404.30h-1.3M218.10 465.4v1.3M151.4 403.06h-1.3M219.27 465.4v1.3M151.4 401.96h-1.3M220.33 465.4v2.0M151.4 400.98h-2.0M227.24 465.4v1.3M151.4 394.51h-1.3M231.29 465.4v1.3M151.4 390.73h-1.3M234.16 465.4v1.3M151.4 388.05h-1.3M236.38 465.4v1.3M151.4 385.96h-1.3M238.20 465.4v1.3M151.4 384.26h-1.3M239.74 465.4v1.3M151.4 382.83h-1.3M241.07 465.4v1.3M151.4 381.58h-1.3M242.25 465.4v1.3M151.4 380.48h-1.3M243.3 465.4v2M151.4 379.5h-2" stroke="#333" stroke-width="0.8" fill="none"/>
<text x="151.1" y="471.7" font-size="4.6" fill="#3a3a3a" text-anchor="middle" font-family="Liberation Sans, sans-serif">10<tspan dy="-1.7" font-size="3.6">0</tspan></text>
<text transform="translate(148.1,465.8) rotate(-90)" font-size="4.6" fill="#3a3a3a" text-anchor="middle" font-family="Liberation Sans, sans-serif">10<tspan dy="-1.7" font-size="3.6">0</tspan></text>
<text x="174.1" y="471.7" font-size="4.6" fill="#3a3a3a" text-anchor="middle" font-family="Liberation Sans, sans-serif">10<tspan dy="-1.7" font-size="3.6">1</tspan></text>
<text transform="translate(148.1,444.3) rotate(-90)" font-size="4.6" fill="#3a3a3a" text-anchor="middle" font-family="Liberation Sans, sans-serif">10<tspan dy="-1.7" font-size="3.6">1</tspan></text>
<text x="197.1" y="471.7" font-size="4.6" fill="#3a3a3a" text-anchor="middle" font-family="Liberation Sans, sans-serif">10<tspan dy="-1.7" font-size="3.6">2</tspan></text>
<text transform="translate(148.1,422.8) rotate(-90)" font-size="4.6" fill="#3a3a3a" text-anchor="middle" font-family="Liberation Sans, sans-serif">10<tspan dy="-1.7" font-size="3.6">2</tspan></text>
<text x="220.0" y="471.7" font-size="4.6" fill="#3a3a3a" text-anchor="middle" font-family="Liberation Sans, sans-serif">10<tspan dy="-1.7" font-size="3.6">3</tspan></text>
<text transform="translate(148.1,401.4) rotate(-90)" font-size="4.6" fill="#3a3a3a" text-anchor="middle" font-family="Liberation Sans, sans-serif">10<tspan dy="-1.7" font-size="3.6">3</tspan></text>
<text x="243.0" y="471.7" font-size="4.6" fill="#3a3a3a" text-anchor="middle" font-family="Liberation Sans, sans-serif">10<tspan dy="-1.7" font-size="3.6">4</tspan></text>
<text transform="translate(148.1,379.9) rotate(-90)" font-size="4.6" fill="#3a3a3a" text-anchor="middle" font-family="Liberation Sans, sans-serif">10<tspan dy="-1.7" font-size="3.6">4</tspan></text>
<text x="197.4" y="475.9" font-size="3.9" fill="#444" text-anchor="middle" font-family="Liberation Sans, sans-serif">eGFP-FL1</text>
<text transform="translate(143.4,423.3) rotate(-90)" font-size="3.9" fill="#444" text-anchor="middle" font-family="Liberation Sans, sans-serif">DsRED-FL2</text>
<text x="219.9" y="442.2" font-size="4" fill="#333" text-anchor="middle" font-family="Liberation Sans, sans-serif">R3</text>
<text x="168.4" y="452.9" font-size="4" fill="#222" text-anchor="middle" font-family="Liberation Sans, sans-serif">R2</text>
<polygon points="271.79,465.49 271.30,463.81 271.30,461.96 271.81,460.74 271.37,459.78 271.80,458.45 271.30,456.86 272.15,456.89 274.30,455.62 274.47,455.16 276.04,455.32 277.88,454.75 278.16,454.20 279.78,453.52 280.97,452.39 280.94,452.58 282.70,451.97 282.88,451.35 284.28,450.32 285.12,449.36 286.22,448.47 287.59,447.11 288.88,446.44 290.05,445.37 291.57,443.55 293.55,442.43 294.72,441.80 295.83,439.75 296.51,438.40 298.21,437.86 299.04,436.16 300.07,435.12 301.57,433.51 302.55,431.67 303.81,430.76 305.71,428.76 307.41,427.46 307.85,426.63 308.64,426.62 309.67,425.21 310.79,424.65 312.19,423.73 313.23,422.95 314.06,423.44 314.22,423.10 315.22,422.73 316.05,422.70 317.84,423.21 318.69,422.14 318.14,422.96 318.04,422.78 318.45,423.04 318.30,422.87 318.81,422.18 318.59,422.89 317.15,424.43 315.02,427.38 312.76,429.24 310.64,431.04 309.32,433.79 306.66,435.34 304.73,438.41 303.37,440.58 301.24,443.45 299.99,446.18 298.04,448.07 295.66,451.14 294.32,453.49 292.21,455.94 290.81,458.34 289.67,460.34 287.02,463.13 285.81,465.45 283.16,464.75 281.36,464.93 278.20,464.94 276.25,464.56 273.74,465.01" fill="#df8f1e" opacity="1" stroke="#df8f1e" stroke-width="1.2" stroke-opacity="0.65" stroke-linejoin="round"/>
<path d="M327.2 432.4h0.6v0.6h-0.6zM340.7 419.3h0.6v0.6h-0.6zM334.5 424.7h0.6v0.6h-0.6zM306.4 448.4h0.6v0.6h-0.6zM324.4 432.4h0.6v0.6h-0.6zM329.2 431.0h0.6v0.6h-0.6zM312.9 443.5h0.6v0.6h-0.6zM314.0 442.0h0.6v0.6h-0.6zM306.6 447.8h0.6v0.6h-0.6zM302.3 450.8h0.6v0.6h-0.6zM326.5 431.0h0.6v0.6h-0.6zM342.7 417.5h0.6v0.6h-0.6zM307.2 447.2h0.6v0.6h-0.6zM315.9 441.5h0.6v0.6h-0.6zM307.5 445.9h0.6v0.6h-0.6zM308.1 445.7h0.6v0.6h-0.6zM310.8 444.1h0.6v0.6h-0.6zM319.2 437.3h0.6v0.6h-0.6zM325.4 432.2h0.6v0.6h-0.6zM338.2 421.7h0.6v0.6h-0.6zM316.0 439.5h0.6v0.6h-0.6zM340.9 419.6h0.6v0.6h-0.6zM342.6 418.8h0.6v0.6h-0.6zM347.4 414.0h0.6v0.6h-0.6zM321.5 434.8h0.6v0.6h-0.6zM327.7 431.3h0.6v0.6h-0.6zM326.2 432.1h0.6v0.6h-0.6zM347.7 412.1h0.6v0.6h-0.6zM332.3 425.7h0.6v0.6h-0.6zM344.5 417.3h0.6v0.6h-0.6zM314.4 441.0h0.6v0.6h-0.6zM328.5 430.1h0.6v0.6h-0.6zM313.2 442.0h0.6v0.6h-0.6zM346.4 415.0h0.6v0.6h-0.6zM333.2 427.1h0.6v0.6h-0.6zM346.2 414.2h0.6v0.6h-0.6zM323.6 433.5h0.6v0.6h-0.6zM308.5 447.5h0.6v0.6h-0.6zM321.1 436.4h0.6v0.6h-0.6zM305.0 448.2h0.6v0.6h-0.6zM329.7 427.5h0.6v0.6h-0.6zM311.5 443.3h0.6v0.6h-0.6zM327.2 429.9h0.6v0.6h-0.6zM316.8 440.2h0.6v0.6h-0.6zM325.4 432.4h0.6v0.6h-0.6zM302.0 452.6h0.6v0.6h-0.6zM312.6 442.3h0.6v0.6h-0.6zM316.2 440.7h0.6v0.6h-0.6zM338.4 421.7h0.6v0.6h-0.6zM342.6 417.7h0.6v0.6h-0.6zM319.2 437.1h0.6v0.6h-0.6zM307.7 449.4h0.6v0.6h-0.6zM337.1 423.3h0.6v0.6h-0.6zM318.3 437.2h0.6v0.6h-0.6zM342.3 417.7h0.6v0.6h-0.6zM336.6 421.7h0.6v0.6h-0.6zM324.7 432.2h0.6v0.6h-0.6zM345.9 416.9h0.6v0.6h-0.6zM302.6 450.9h0.6v0.6h-0.6zM326.4 432.1h0.6v0.6h-0.6zM322.1 434.1h0.6v0.6h-0.6zM330.0 428.5h0.6v0.6h-0.6zM323.5 433.4h0.6v0.6h-0.6zM319.8 436.3h0.6v0.6h-0.6zM317.6 438.0h0.6v0.6h-0.6zM325.1 432.4h0.6v0.6h-0.6zM317.0 440.7h0.6v0.6h-0.6zM330.8 429.8h0.6v0.6h-0.6zM318.2 438.1h0.6v0.6h-0.6zM347.2 414.8h0.6v0.6h-0.6zM344.9 416.0h0.6v0.6h-0.6zM326.9 429.7h0.6v0.6h-0.6zM335.8 420.9h0.6v0.6h-0.6zM325.3 431.5h0.6v0.6h-0.6zM319.8 437.3h0.6v0.6h-0.6zM319.7 437.8h0.6v0.6h-0.6zM327.3 431.6h0.6v0.6h-0.6zM320.1 435.8h0.6v0.6h-0.6zM344.1 417.1h0.6v0.6h-0.6zM321.1 433.0h0.6v0.6h-0.6zM317.0 438.2h0.6v0.6h-0.6zM309.4 447.0h0.6v0.6h-0.6zM340.4 419.3h0.6v0.6h-0.6zM343.4 415.5h0.6v0.6h-0.6zM349.0 412.4h0.6v0.6h-0.6zM309.4 446.6h0.6v0.6h-0.6zM326.0 432.5h0.6v0.6h-0.6zM331.1 426.7h0.6v0.6h-0.6zM348.4 412.6h0.6v0.6h-0.6zM321.6 435.2h0.6v0.6h-0.6z" fill="#9cc878" opacity="0.75"/>
<path d="M316.1 423.3h0.7v0.7h-0.7zM315.1 421.8h0.7v0.7h-0.7zM311.0 425.8h0.7v0.7h-0.7zM311.9 424.6h0.7v0.7h-0.7zM316.4 421.3h0.7v0.7h-0.7zM312.5 427.4h0.7v0.7h-0.7zM312.0 426.6h0.7v0.7h-0.7zM314.8 423.1h0.7v0.7h-0.7zM316.2 422.7h0.7v0.7h-0.7zM315.2 424.1h0.7v0.7h-0.7zM313.5 425.6h0.7v0.7h-0.7zM312.5 425.7h0.7v0.7h-0.7zM312.2 425.3h0.7v0.7h-0.7zM312.2 425.8h0.7v0.7h-0.7zM315.9 422.3h0.7v0.7h-0.7zM314.5 426.1h0.7v0.7h-0.7zM315.6 424.1h0.7v0.7h-0.7zM315.7 423.7h0.7v0.7h-0.7zM314.8 422.0h0.7v0.7h-0.7zM311.3 426.5h0.7v0.7h-0.7zM311.6 427.3h0.7v0.7h-0.7zM314.2 423.7h0.7v0.7h-0.7zM311.6 426.4h0.7v0.7h-0.7zM316.8 422.9h0.7v0.7h-0.7zM310.7 426.1h0.7v0.7h-0.7z" fill="#e0d080" opacity="0.8"/>
<polyline points="271.30,448.58 307.55,417.91 336.16,403.14" fill="none" stroke="#2a2a2a" stroke-width="0.65"/>
<polyline points="285.84,465.50 296.14,450.90 307.00,435.78 330.00,410.09 336.16,403.14 355.94,379.60" fill="none" stroke="#2a2a2a" stroke-width="0.65"/>
<path d="M271.3 379.6H363.3" stroke="#555" stroke-width="1.1"/>
<path d="M363.3 379.05V465.5" stroke="#444" stroke-width="1.1"/>
<path d="M271.3 379.05V466.1" stroke="#484848" stroke-width="1.15"/>
<path d="M270.7 465.5H363.85" stroke="#2a2a2a" stroke-width="1.25"/>
<path d="M271.30 465.5v2.0M271.3 465.50h-2.0M278.22 465.5v1.3M271.3 459.04h-1.3M282.27 465.5v1.3M271.3 455.25h-1.3M285.15 465.5v1.3M271.3 452.57h-1.3M287.38 465.5v1.3M271.3 450.49h-1.3M289.20 465.5v1.3M271.3 448.79h-1.3M290.74 465.5v1.3M271.3 447.35h-1.3M292.07 465.5v1.3M271.3 446.11h-1.3M293.25 465.5v1.3M271.3 445.01h-1.3M294.30 465.5v2.0M271.3 444.02h-2.0M301.22 465.5v1.3M271.3 437.56h-1.3M305.27 465.5v1.3M271.3 433.78h-1.3M308.15 465.5v1.3M271.3 431.10h-1.3M310.38 465.5v1.3M271.3 429.01h-1.3M312.20 465.5v1.3M271.3 427.31h-1.3M313.74 465.5v1.3M271.3 425.88h-1.3M315.07 465.5v1.3M271.3 424.63h-1.3M316.25 465.5v1.3M271.3 423.53h-1.3M317.30 465.5v2.0M271.3 422.55h-2.0M324.22 465.5v1.3M271.3 416.09h-1.3M328.27 465.5v1.3M271.3 412.30h-1.3M331.15 465.5v1.3M271.3 409.62h-1.3M333.38 465.5v1.3M271.3 407.54h-1.3M335.20 465.5v1.3M271.3 405.84h-1.3M336.74 465.5v1.3M271.3 404.40h-1.3M338.07 465.5v1.3M271.3 403.16h-1.3M339.25 465.5v1.3M271.3 402.06h-1.3M340.30 465.5v2.0M271.3 401.08h-2.0M347.22 465.5v1.3M271.3 394.61h-1.3M351.27 465.5v1.3M271.3 390.83h-1.3M354.15 465.5v1.3M271.3 388.15h-1.3M356.38 465.5v1.3M271.3 386.06h-1.3M358.20 465.5v1.3M271.3 384.36h-1.3M359.74 465.5v1.3M271.3 382.93h-1.3M361.07 465.5v1.3M271.3 381.68h-1.3M362.25 465.5v1.3M271.3 380.58h-1.3M363.3 465.5v2M271.3 379.6h-2" stroke="#333" stroke-width="0.8" fill="none"/>
<text x="271.0" y="471.8" font-size="4.6" fill="#3a3a3a" text-anchor="middle" font-family="Liberation Sans, sans-serif">10<tspan dy="-1.7" font-size="3.6">0</tspan></text>
<text transform="translate(268.0,465.9) rotate(-90)" font-size="4.6" fill="#3a3a3a" text-anchor="middle" font-family="Liberation Sans, sans-serif">10<tspan dy="-1.7" font-size="3.6">0</tspan></text>
<text x="294.0" y="471.8" font-size="4.6" fill="#3a3a3a" text-anchor="middle" font-family="Liberation Sans, sans-serif">10<tspan dy="-1.7" font-size="3.6">1</tspan></text>
<text transform="translate(268.0,444.4) rotate(-90)" font-size="4.6" fill="#3a3a3a" text-anchor="middle" font-family="Liberation Sans, sans-serif">10<tspan dy="-1.7" font-size="3.6">1</tspan></text>
<text x="317.0" y="471.8" font-size="4.6" fill="#3a3a3a" text-anchor="middle" font-family="Liberation Sans, sans-serif">10<tspan dy="-1.7" font-size="3.6">2</tspan></text>
<text transform="translate(268.0,422.9) rotate(-90)" font-size="4.6" fill="#3a3a3a" text-anchor="middle" font-family="Liberation Sans, sans-serif">10<tspan dy="-1.7" font-size="3.6">2</tspan></text>
<text x="340.0" y="471.8" font-size="4.6" fill="#3a3a3a" text-anchor="middle" font-family="Liberation Sans, sans-serif">10<tspan dy="-1.7" font-size="3.6">3</tspan></text>
<text transform="translate(268.0,401.5) rotate(-90)" font-size="4.6" fill="#3a3a3a" text-anchor="middle" font-family="Liberation Sans, sans-serif">10<tspan dy="-1.7" font-size="3.6">3</tspan></text>
<text x="363.0" y="471.8" font-size="4.6" fill="#3a3a3a" text-anchor="middle" font-family="Liberation Sans, sans-serif">10<tspan dy="-1.7" font-size="3.6">4</tspan></text>
<text transform="translate(268.0,380.0) rotate(-90)" font-size="4.6" fill="#3a3a3a" text-anchor="middle" font-family="Liberation Sans, sans-serif">10<tspan dy="-1.7" font-size="3.6">4</tspan></text>
<text x="317.3" y="476.0" font-size="3.9" fill="#444" text-anchor="middle" font-family="Liberation Sans, sans-serif">eGFP-FL1</text>
<text transform="translate(263.3,423.4) rotate(-90)" font-size="3.9" fill="#444" text-anchor="middle" font-family="Liberation Sans, sans-serif">DsRED-FL2</text>
<text x="339.8" y="442.3" font-size="4" fill="#333" text-anchor="middle" font-family="Liberation Sans, sans-serif">R3</text>
<text x="288.3" y="453.0" font-size="4" fill="#222" text-anchor="middle" font-family="Liberation Sans, sans-serif">R2</text>
<polygon points="433.40,464.62 433.40,464.33 433.40,462.66 433.40,461.63 433.40,460.30 433.58,459.54 433.40,458.84 433.40,458.30 434.02,458.07 433.71,458.72 434.23,457.93 433.85,458.43 434.00,458.59 434.49,458.03 435.49,456.74 436.11,456.10 437.07,455.69 437.96,455.48 438.04,454.59 439.01,453.78 440.01,452.91 440.32,452.57 440.76,452.04 441.59,451.15 442.50,450.01 442.98,449.17 443.42,449.34 444.25,448.53 444.70,447.81 445.65,447.13 446.25,446.07 446.85,445.89 447.23,446.05 447.99,445.39 449.26,445.43 449.82,445.17 449.57,444.22 450.15,443.84 451.54,442.70 451.95,442.21 452.96,440.99 453.81,440.29 454.26,439.32 454.40,439.30 455.79,438.32 455.73,436.85 456.57,436.24 457.44,435.66 457.85,434.81 459.20,433.99 460.12,433.70 460.67,432.69 461.05,432.45 461.65,431.06 462.87,431.17 462.94,429.95 464.25,430.08 464.03,429.24 464.78,429.35 465.56,429.02 466.83,427.71 467.48,427.52 468.24,427.47 468.43,426.21 469.87,426.05 470.56,425.83 471.06,425.47 471.52,424.56 471.47,424.30 472.46,423.59 473.60,422.68 474.00,422.08 474.52,422.35 474.60,421.75 475.95,421.52 476.04,420.79 476.08,420.57 477.03,420.08 477.49,419.68 478.22,420.08 477.99,419.48 478.59,419.53 479.35,419.28 478.94,419.67 479.05,419.18 479.27,419.55 479.50,419.61 479.08,419.63 479.56,419.53 479.74,420.03 479.02,419.58 479.00,419.67 478.38,419.92 478.24,420.52 478.23,420.09 477.80,420.63 477.55,420.49 476.66,421.16 477.11,422.75 475.54,423.55 475.96,424.22 474.43,424.97 474.22,425.49 473.66,426.19 473.41,427.74 472.41,428.93 471.76,429.11 470.63,429.88 469.72,431.42 469.66,432.15 467.99,433.72 467.77,435.23 466.07,436.30 465.85,437.47 464.34,438.12 464.20,438.96 463.00,439.90 462.31,440.89 461.48,440.77 461.15,442.08 460.74,442.86 460.33,443.77 459.37,443.97 458.49,444.42 458.45,444.85 458.06,445.60 457.28,447.09 456.34,447.43 456.17,448.89 455.93,450.00 455.51,452.18 454.90,453.04 453.79,454.59 453.63,454.95 453.02,455.59 452.97,456.60 452.82,456.54 451.73,457.44 451.61,457.96 450.72,458.30 450.37,459.30 450.59,460.38 449.98,461.06 449.60,461.31 448.94,461.35 448.44,462.26 447.67,462.57 448.04,462.82 447.35,462.97 446.66,463.92 445.96,463.55 446.03,463.94 444.73,464.29 444.40,464.34 443.81,464.41 443.33,464.41 442.18,464.31 441.51,464.76 439.11,465.16 437.73,464.44 436.50,464.67 434.92,465.05" fill="#df8f1e" opacity="1" stroke="#df8f1e" stroke-width="1.2" stroke-opacity="0.65" stroke-linejoin="round"/>
<path d="M479.5 418.8h0.6v0.6h-0.6zM481.1 418.1h0.6v0.6h-0.6zM481.5 418.8h0.6v0.6h-0.6zM482.2 417.0h0.6v0.6h-0.6zM484.4 419.0h0.6v0.6h-0.6zM483.6 418.5h0.6v0.6h-0.6zM481.6 420.1h0.6v0.6h-0.6zM481.7 417.7h0.6v0.6h-0.6zM483.3 417.7h0.6v0.6h-0.6zM481.6 418.7h0.6v0.6h-0.6zM479.4 420.0h0.6v0.6h-0.6zM481.7 417.8h0.6v0.6h-0.6zM481.8 416.7h0.6v0.6h-0.6zM483.9 418.3h0.6v0.6h-0.6z" fill="#e8d8a0" opacity="0.8"/>
<polyline points="433.40,448.58 469.69,417.91 498.33,403.14" fill="none" stroke="#2a2a2a" stroke-width="0.65"/>
<polyline points="447.95,465.50 458.27,450.90 469.13,435.78 492.16,410.09 498.33,403.14 518.13,379.60" fill="none" stroke="#2a2a2a" stroke-width="0.65"/>
<path d="M433.4 379.6H525.5" stroke="#444" stroke-width="1.2"/>
<path d="M525.5 379.0V465.5" stroke="#333" stroke-width="1.2"/>
<path d="M433.4 379.0V466.1" stroke="#484848" stroke-width="1.15"/>
<path d="M432.79999999999995 465.5H526.1" stroke="#2a2a2a" stroke-width="1.25"/>
<path d="M433.40 465.5v2.0M433.4 465.50h-2.0M440.33 465.5v1.3M433.4 459.04h-1.3M444.39 465.5v1.3M433.4 455.25h-1.3M447.26 465.5v1.3M433.4 452.57h-1.3M449.49 465.5v1.3M433.4 450.49h-1.3M451.32 465.5v1.3M433.4 448.79h-1.3M452.86 465.5v1.3M433.4 447.35h-1.3M454.19 465.5v1.3M433.4 446.11h-1.3M455.37 465.5v1.3M433.4 445.01h-1.3M456.42 465.5v2.0M433.4 444.02h-2.0M463.36 465.5v1.3M433.4 437.56h-1.3M467.41 465.5v1.3M433.4 433.78h-1.3M470.29 465.5v1.3M433.4 431.10h-1.3M472.52 465.5v1.3M433.4 429.01h-1.3M474.34 465.5v1.3M433.4 427.31h-1.3M475.88 465.5v1.3M433.4 425.88h-1.3M477.22 465.5v1.3M433.4 424.63h-1.3M478.40 465.5v1.3M433.4 423.53h-1.3M479.45 465.5v2.0M433.4 422.55h-2.0M486.38 465.5v1.3M433.4 416.09h-1.3M490.44 465.5v1.3M433.4 412.30h-1.3M493.31 465.5v1.3M433.4 409.62h-1.3M495.54 465.5v1.3M433.4 407.54h-1.3M497.37 465.5v1.3M433.4 405.84h-1.3M498.91 465.5v1.3M433.4 404.40h-1.3M500.24 465.5v1.3M433.4 403.16h-1.3M501.42 465.5v1.3M433.4 402.06h-1.3M502.48 465.5v2.0M433.4 401.08h-2.0M509.41 465.5v1.3M433.4 394.61h-1.3M513.46 465.5v1.3M433.4 390.83h-1.3M516.34 465.5v1.3M433.4 388.15h-1.3M518.57 465.5v1.3M433.4 386.06h-1.3M520.39 465.5v1.3M433.4 384.36h-1.3M521.93 465.5v1.3M433.4 382.93h-1.3M523.27 465.5v1.3M433.4 381.68h-1.3M524.45 465.5v1.3M433.4 380.58h-1.3M525.5 465.5v2M433.4 379.6h-2" stroke="#333" stroke-width="0.8" fill="none"/>
<text x="433.1" y="471.8" font-size="4.6" fill="#3a3a3a" text-anchor="middle" font-family="Liberation Sans, sans-serif">10<tspan dy="-1.7" font-size="3.6">0</tspan></text>
<text transform="translate(430.1,465.9) rotate(-90)" font-size="4.6" fill="#3a3a3a" text-anchor="middle" font-family="Liberation Sans, sans-serif">10<tspan dy="-1.7" font-size="3.6">0</tspan></text>
<text x="456.1" y="471.8" font-size="4.6" fill="#3a3a3a" text-anchor="middle" font-family="Liberation Sans, sans-serif">10<tspan dy="-1.7" font-size="3.6">1</tspan></text>
<text transform="translate(430.1,444.4) rotate(-90)" font-size="4.6" fill="#3a3a3a" text-anchor="middle" font-family="Liberation Sans, sans-serif">10<tspan dy="-1.7" font-size="3.6">1</tspan></text>
<text x="479.1" y="471.8" font-size="4.6" fill="#3a3a3a" text-anchor="middle" font-family="Liberation Sans, sans-serif">10<tspan dy="-1.7" font-size="3.6">2</tspan></text>
<text transform="translate(430.1,422.9) rotate(-90)" font-size="4.6" fill="#3a3a3a" text-anchor="middle" font-family="Liberation Sans, sans-serif">10<tspan dy="-1.7" font-size="3.6">2</tspan></text>
<text x="502.2" y="471.8" font-size="4.6" fill="#3a3a3a" text-anchor="middle" font-family="Liberation Sans, sans-serif">10<tspan dy="-1.7" font-size="3.6">3</tspan></text>
<text transform="translate(430.1,401.5) rotate(-90)" font-size="4.6" fill="#3a3a3a" text-anchor="middle" font-family="Liberation Sans, sans-serif">10<tspan dy="-1.7" font-size="3.6">3</tspan></text>
<text x="525.2" y="471.8" font-size="4.6" fill="#3a3a3a" text-anchor="middle" font-family="Liberation Sans, sans-serif">10<tspan dy="-1.7" font-size="3.6">4</tspan></text>
<text transform="translate(430.1,380.0) rotate(-90)" font-size="4.6" fill="#3a3a3a" text-anchor="middle" font-family="Liberation Sans, sans-serif">10<tspan dy="-1.7" font-size="3.6">4</tspan></text>
<text x="479.4" y="476.0" font-size="3.9" fill="#444" text-anchor="middle" font-family="Liberation Sans, sans-serif">eGFP-FL1</text>
<text transform="translate(425.4,423.4) rotate(-90)" font-size="3.9" fill="#444" text-anchor="middle" font-family="Liberation Sans, sans-serif">DsRED-FL2</text>
<text x="502.0" y="442.3" font-size="4" fill="#333" text-anchor="middle" font-family="Liberation Sans, sans-serif">R3</text>
<text x="450.4" y="453.0" font-size="4" fill="#222" text-anchor="middle" font-family="Liberation Sans, sans-serif">R2</text>
<polygon points="35.20,584.31 35.40,583.59 35.20,582.33 35.46,582.13 35.45,580.41 35.32,579.68 35.25,579.62 35.20,579.66 35.83,578.88 35.51,578.99 36.44,579.04 35.85,578.38 36.06,579.10 36.76,578.25 37.49,577.80 38.21,576.65 39.37,576.47 39.78,576.16 40.69,574.75 40.72,574.32 41.61,574.49 42.65,573.05 42.67,573.29 43.93,572.28 44.41,571.46 45.50,571.19 46.21,570.89 46.00,570.09 46.84,570.15 47.93,568.76 48.14,568.57 49.18,568.22 49.80,567.41 50.08,567.07 51.15,565.92 52.00,566.35 52.25,564.90 53.65,564.17 53.92,563.55 54.62,562.76 55.62,562.30 56.84,560.48 57.07,560.38 57.96,559.78 58.23,559.04 58.47,558.07 59.49,558.08 60.19,557.28 60.02,556.76 61.20,555.92 61.78,555.18 62.38,554.67 62.53,554.02 63.51,554.12 64.38,552.91 64.82,552.20 65.65,551.52 65.98,551.70 67.18,550.69 68.02,549.97 68.28,549.15 69.35,548.47 70.75,547.79 71.91,546.64 72.81,545.95 72.80,544.60 74.28,544.51 74.74,543.50 75.53,542.80 75.84,541.62 77.47,540.61 77.47,539.56 78.07,539.03 79.21,538.46 79.41,537.92 80.17,538.09 80.76,536.89 81.40,537.16 81.79,535.73 82.05,536.68 81.56,536.05 81.42,536.59 82.22,536.83 82.30,536.52 81.67,537.20 81.46,537.73 80.92,538.55 79.66,539.52 79.08,540.63 78.83,541.38 78.55,542.03 77.85,542.90 77.81,544.59 77.32,545.18 76.35,546.99 75.48,547.46 74.74,548.63 74.67,549.29 73.99,550.35 72.94,551.24 72.22,552.03 71.53,552.41 70.95,553.05 70.22,554.13 69.60,554.22 68.90,555.47 67.86,555.31 67.24,556.56 66.12,556.15 65.80,557.45 65.44,557.78 64.99,558.27 64.04,558.76 62.54,559.44 61.88,560.45 61.90,560.89 61.81,561.86 60.41,562.44 60.53,563.98 59.37,563.84 59.53,564.83 59.45,565.81 58.76,566.37 58.63,567.21 57.80,568.38 57.25,568.93 56.89,569.55 57.04,570.90 56.43,571.71 56.58,573.19 56.95,574.01 55.92,574.74 55.73,576.05 55.15,576.36 55.20,577.36 54.15,578.26 53.52,578.37 52.91,579.22 53.17,579.15 52.68,580.14 51.81,580.05 51.68,581.04 50.96,581.24 51.09,581.42 50.72,582.28 49.82,582.48 49.49,582.58 49.56,582.16 49.06,583.20 47.94,582.40 47.24,583.58 45.82,583.59 44.67,583.48 43.30,582.96 42.64,582.96 40.95,583.88 40.06,583.92 39.58,583.13 37.99,584.00 37.72,583.30 36.75,583.59 35.89,583.54" fill="#df8f1e" opacity="1" stroke="#df8f1e" stroke-width="1.2" stroke-opacity="0.65" stroke-linejoin="round"/>
<path d="M62.4 567.7h0.6v0.6h-0.6zM91.5 546.8h0.6v0.6h-0.6zM65.0 565.0h0.6v0.6h-0.6zM85.1 552.1h0.6v0.6h-0.6zM78.6 556.1h0.6v0.6h-0.6zM78.5 555.3h0.6v0.6h-0.6zM70.1 562.4h0.6v0.6h-0.6zM85.7 550.3h0.6v0.6h-0.6zM70.1 561.7h0.6v0.6h-0.6zM77.2 556.0h0.6v0.6h-0.6zM74.6 559.2h0.6v0.6h-0.6zM82.0 551.5h0.6v0.6h-0.6zM86.2 550.6h0.6v0.6h-0.6zM84.6 550.6h0.6v0.6h-0.6zM76.0 557.5h0.6v0.6h-0.6zM73.6 558.8h0.6v0.6h-0.6zM96.1 543.1h0.6v0.6h-0.6zM92.3 546.1h0.6v0.6h-0.6zM73.7 559.3h0.6v0.6h-0.6zM65.7 564.0h0.6v0.6h-0.6zM93.1 545.8h0.6v0.6h-0.6zM71.2 559.2h0.6v0.6h-0.6zM71.7 560.3h0.6v0.6h-0.6zM86.9 548.6h0.6v0.6h-0.6zM81.7 553.3h0.6v0.6h-0.6zM82.3 551.5h0.6v0.6h-0.6zM84.2 550.9h0.6v0.6h-0.6zM81.4 552.1h0.6v0.6h-0.6zM81.6 552.2h0.6v0.6h-0.6zM81.5 554.7h0.6v0.6h-0.6zM76.8 555.3h0.6v0.6h-0.6zM77.2 556.7h0.6v0.6h-0.6zM91.3 544.7h0.6v0.6h-0.6zM79.1 554.3h0.6v0.6h-0.6zM67.2 563.0h0.6v0.6h-0.6zM83.6 550.5h0.6v0.6h-0.6zM91.3 546.6h0.6v0.6h-0.6zM89.4 546.9h0.6v0.6h-0.6zM66.1 564.7h0.6v0.6h-0.6zM73.4 558.2h0.6v0.6h-0.6zM77.1 557.3h0.6v0.6h-0.6zM94.4 542.2h0.6v0.6h-0.6zM77.6 554.8h0.6v0.6h-0.6zM65.6 563.7h0.6v0.6h-0.6zM78.7 555.9h0.6v0.6h-0.6zM72.3 559.8h0.6v0.6h-0.6zM67.4 563.0h0.6v0.6h-0.6zM66.8 563.0h0.6v0.6h-0.6zM72.0 561.7h0.6v0.6h-0.6zM62.8 564.6h0.6v0.6h-0.6zM66.3 563.8h0.6v0.6h-0.6zM81.7 552.8h0.6v0.6h-0.6zM75.0 558.1h0.6v0.6h-0.6zM69.8 561.5h0.6v0.6h-0.6zM87.9 548.5h0.6v0.6h-0.6zM81.1 553.4h0.6v0.6h-0.6zM93.7 543.0h0.6v0.6h-0.6zM83.4 551.8h0.6v0.6h-0.6zM85.8 549.9h0.6v0.6h-0.6zM79.0 554.9h0.6v0.6h-0.6zM60.9 567.0h0.6v0.6h-0.6zM77.1 555.8h0.6v0.6h-0.6zM77.8 555.7h0.6v0.6h-0.6zM75.9 555.7h0.6v0.6h-0.6zM83.6 550.5h0.6v0.6h-0.6zM61.8 566.2h0.6v0.6h-0.6zM87.1 548.4h0.6v0.6h-0.6zM69.9 563.4h0.6v0.6h-0.6zM65.7 566.4h0.6v0.6h-0.6zM81.4 554.4h0.6v0.6h-0.6z" fill="#b8cc98" opacity="0.75"/>
<path d="M83.5 535.5h0.6v0.6h-0.6zM82.6 536.1h0.6v0.6h-0.6zM85.9 533.4h0.6v0.6h-0.6zM80.6 537.3h0.6v0.6h-0.6zM81.2 536.6h0.6v0.6h-0.6zM81.4 536.8h0.6v0.6h-0.6zM83.4 534.9h0.6v0.6h-0.6zM83.2 536.2h0.6v0.6h-0.6zM85.1 533.6h0.6v0.6h-0.6zM81.8 536.5h0.6v0.6h-0.6zM82.2 536.4h0.6v0.6h-0.6zM82.0 535.4h0.6v0.6h-0.6z" fill="#e8d8a0" opacity="0.8"/>
<polyline points="35.20,567.94 71.61,537.20 100.34,522.39" fill="none" stroke="#2a2a2a" stroke-width="0.65"/>
<polyline points="49.80,584.90 60.15,570.26 71.05,555.11 94.15,529.37 100.34,522.39 120.21,498.80" fill="none" stroke="#2a2a2a" stroke-width="0.65"/>
<rect x="35.2" y="498.8" width="92.39999999999999" height="86.09999999999997" fill="none" stroke="#000" stroke-width="2.2"/>
<path d="M35.20 584.9v2.0M35.2 584.90h-2.0M42.15 584.9v1.3M35.2 578.42h-1.3M46.22 584.9v1.3M35.2 574.63h-1.3M49.11 584.9v1.3M35.2 571.94h-1.3M51.35 584.9v1.3M35.2 569.85h-1.3M53.18 584.9v1.3M35.2 568.15h-1.3M54.72 584.9v1.3M35.2 566.71h-1.3M56.06 584.9v1.3M35.2 565.46h-1.3M57.24 584.9v1.3M35.2 564.36h-1.3M58.30 584.9v2.0M35.2 563.38h-2.0M65.25 584.9v1.3M35.2 556.90h-1.3M69.32 584.9v1.3M35.2 553.10h-1.3M72.21 584.9v1.3M35.2 550.42h-1.3M74.45 584.9v1.3M35.2 548.33h-1.3M76.28 584.9v1.3M35.2 546.63h-1.3M77.82 584.9v1.3M35.2 545.18h-1.3M79.16 584.9v1.3M35.2 543.94h-1.3M80.34 584.9v1.3M35.2 542.83h-1.3M81.40 584.9v2.0M35.2 541.85h-2.0M88.35 584.9v1.3M35.2 535.37h-1.3M92.42 584.9v1.3M35.2 531.58h-1.3M95.31 584.9v1.3M35.2 528.89h-1.3M97.55 584.9v1.3M35.2 526.80h-1.3M99.38 584.9v1.3M35.2 525.10h-1.3M100.92 584.9v1.3M35.2 523.66h-1.3M102.26 584.9v1.3M35.2 522.41h-1.3M103.44 584.9v1.3M35.2 521.31h-1.3M104.50 584.9v2.0M35.2 520.33h-2.0M111.45 584.9v1.3M35.2 513.85h-1.3M115.52 584.9v1.3M35.2 510.05h-1.3M118.41 584.9v1.3M35.2 507.37h-1.3M120.65 584.9v1.3M35.2 505.28h-1.3M122.48 584.9v1.3M35.2 503.58h-1.3M124.02 584.9v1.3M35.2 502.13h-1.3M125.36 584.9v1.3M35.2 500.89h-1.3M126.54 584.9v1.3M35.2 499.78h-1.3M127.6 584.9v2M35.2 498.8h-2" stroke="#333" stroke-width="0.8" fill="none"/>
<text x="34.9" y="591.2" font-size="4.6" fill="#3a3a3a" text-anchor="middle" font-family="Liberation Sans, sans-serif">10<tspan dy="-1.7" font-size="3.6">0</tspan></text>
<text transform="translate(31.9,585.3) rotate(-90)" font-size="4.6" fill="#3a3a3a" text-anchor="middle" font-family="Liberation Sans, sans-serif">10<tspan dy="-1.7" font-size="3.6">0</tspan></text>
<text x="58.0" y="591.2" font-size="4.6" fill="#3a3a3a" text-anchor="middle" font-family="Liberation Sans, sans-serif">10<tspan dy="-1.7" font-size="3.6">1</tspan></text>
<text transform="translate(31.9,563.8) rotate(-90)" font-size="4.6" fill="#3a3a3a" text-anchor="middle" font-family="Liberation Sans, sans-serif">10<tspan dy="-1.7" font-size="3.6">1</tspan></text>
<text x="81.1" y="591.2" font-size="4.6" fill="#3a3a3a" text-anchor="middle" font-family="Liberation Sans, sans-serif">10<tspan dy="-1.7" font-size="3.6">2</tspan></text>
<text transform="translate(31.9,542.2) rotate(-90)" font-size="4.6" fill="#3a3a3a" text-anchor="middle" font-family="Liberation Sans, sans-serif">10<tspan dy="-1.7" font-size="3.6">2</tspan></text>
<text x="104.2" y="591.2" font-size="4.6" fill="#3a3a3a" text-anchor="middle" font-family="Liberation Sans, sans-serif">10<tspan dy="-1.7" font-size="3.6">3</tspan></text>
<text transform="translate(31.9,520.7) rotate(-90)" font-size="4.6" fill="#3a3a3a" text-anchor="middle" font-family="Liberation Sans, sans-serif">10<tspan dy="-1.7" font-size="3.6">3</tspan></text>
<text x="127.3" y="591.2" font-size="4.6" fill="#3a3a3a" text-anchor="middle" font-family="Liberation Sans, sans-serif">10<tspan dy="-1.7" font-size="3.6">4</tspan></text>
<text transform="translate(31.9,499.2) rotate(-90)" font-size="4.6" fill="#3a3a3a" text-anchor="middle" font-family="Liberation Sans, sans-serif">10<tspan dy="-1.7" font-size="3.6">4</tspan></text>
<text x="81.4" y="595.4" font-size="3.9" fill="#444" text-anchor="middle" font-family="Liberation Sans, sans-serif">eGFP-FL1</text>
<text transform="translate(27.2,542.7) rotate(-90)" font-size="3.9" fill="#444" text-anchor="middle" font-family="Liberation Sans, sans-serif">DsRED-FL2</text>
<text x="104.0" y="561.7" font-size="4" fill="#333" text-anchor="middle" font-family="Liberation Sans, sans-serif">R3</text>
<text x="52.3" y="572.4" font-size="4" fill="#222" text-anchor="middle" font-family="Liberation Sans, sans-serif">R2</text>
<polygon points="157.93,576.99 158.27,577.22 157.60,576.84 158.24,576.81 158.47,576.60 158.35,576.96 158.57,576.74 159.81,575.54 160.11,574.81 160.77,573.67 161.02,572.14 162.34,570.66 163.27,569.60 163.76,569.17 164.91,569.02 165.56,568.41 166.20,568.04 166.57,567.01 167.95,566.40 168.81,565.93 168.68,565.28 170.20,565.64 170.56,564.80 171.16,564.53 172.41,563.22 172.43,563.12 173.14,562.60 174.14,561.31 175.19,560.74 175.89,559.91 177.00,559.42 177.74,558.40 178.51,558.40 178.87,556.57 179.67,556.36 180.32,555.41 180.99,554.48 182.51,553.71 183.27,552.65 184.25,551.92 185.17,552.09 186.01,550.87 186.10,549.95 187.43,549.37 188.45,548.22 188.77,548.29 189.71,547.22 189.96,546.07 190.98,546.12 192.43,544.77 193.34,543.90 193.79,544.21 194.33,543.52 195.49,541.94 195.95,541.69 196.42,541.50 196.91,541.06 197.62,539.83 198.48,539.37 199.04,539.59 199.66,538.77 199.43,538.55 199.90,538.41 200.34,538.07 200.99,537.58 201.73,537.09 201.59,537.62 201.77,537.66 202.37,537.43 201.56,537.18 202.37,537.35 201.95,537.92 201.53,538.00 201.18,538.54 201.16,538.84 200.42,539.35 200.02,539.54 199.66,540.79 199.55,541.28 198.44,542.24 198.40,542.99 197.92,543.79 196.97,544.76 196.32,545.16 195.61,546.20 195.33,546.98 194.93,547.64 193.77,548.67 192.97,550.12 192.28,550.25 190.95,551.68 190.95,551.87 189.73,553.30 189.13,553.70 188.31,554.59 187.62,554.88 186.82,556.06 185.60,556.59 184.79,558.12 184.64,558.38 183.64,559.23 182.84,560.18 182.36,561.82 182.67,562.57 181.66,563.20 181.56,564.56 181.10,565.21 180.06,566.13 180.34,567.24 178.99,567.87 178.75,568.00 178.91,569.23 178.14,569.38 177.71,570.92 177.27,571.42 176.42,572.10 175.38,572.34 174.87,573.32 174.15,573.43 173.48,574.29 172.69,574.48 171.95,575.64 170.38,576.15 169.59,575.95 169.07,576.45 168.34,577.60 167.78,577.86 166.67,578.24 166.33,578.43 165.71,578.88 164.33,578.42 163.82,579.50 162.69,579.55 162.56,580.06 160.96,580.05 160.30,579.96 160.50,580.58 159.59,580.92 158.62,580.97 158.44,581.68 158.53,581.17 157.74,581.20 158.22,581.44 157.98,581.87 157.60,581.80 157.60,581.23 157.60,579.94 158.11,579.31 157.60,579.14 157.72,578.42" fill="#df8f1e" opacity="1" stroke="#df8f1e" stroke-width="1.2" stroke-opacity="0.65" stroke-linejoin="round"/>
<polygon points="183.45,566.68 185.15,565.34 186.26,563.66 187.16,562.28 187.91,560.76 188.59,560.38 189.98,558.89 190.68,557.58 191.44,556.95 193.21,556.08 193.59,555.68 195.09,554.57 195.11,553.69 196.50,553.19 197.39,552.03 198.68,550.89 199.54,550.35 200.96,549.32 201.34,548.96 201.97,548.13 203.63,547.15 204.34,546.66 205.80,545.95 206.62,544.54 207.12,543.95 208.77,544.17 208.83,543.30 210.26,542.18 211.01,542.34 212.24,541.30 213.33,540.75 214.03,540.29 215.45,539.94 216.20,539.38 216.67,539.08 217.97,538.21 218.43,537.08 219.70,537.00 220.88,535.74 221.10,535.16 222.85,534.03 223.64,533.27 224.10,532.39 225.04,531.98 226.74,531.83 226.83,530.41 228.62,529.55 228.89,529.05 229.61,528.12 230.49,527.79 231.70,527.20 231.42,527.41 232.27,526.87 233.04,526.35 233.26,525.24 233.75,525.84 233.53,526.33 233.74,526.19 233.31,527.13 233.49,526.75 233.60,526.99 232.82,527.70 231.94,529.18 230.48,530.50 229.44,530.72 228.29,531.97 228.11,533.04 226.77,534.12 225.48,534.55 225.12,536.18 224.15,536.85 223.35,537.49 222.58,538.80 220.98,539.21 220.56,539.95 218.93,541.26 218.37,541.68 217.59,542.85 216.05,543.04 215.04,543.98 214.58,545.30 213.83,545.88 212.59,546.74 211.51,547.88 211.14,548.74 209.50,549.35 209.23,549.97 208.45,551.17 207.33,551.88 206.29,552.73 204.78,553.34 204.46,553.97 203.03,554.12 202.44,555.63 201.12,555.71 200.11,556.31 199.65,557.94 198.79,558.16 197.68,558.73 196.83,559.85 194.90,561.03 194.05,561.53 192.96,562.57 192.56,563.52 191.03,564.11 190.15,564.07 189.78,564.76 188.49,565.57 187.41,566.38 186.85,566.72 186.96,566.69 185.54,567.23 184.98,567.23 184.87,567.06 184.54,568.04 184.35,567.51 184.13,567.52 183.68,567.62 184.39,567.37 184.21,566.69" fill="#82f326" opacity="1" stroke="#82f326" stroke-width="1.2" stroke-opacity="0.65" stroke-linejoin="round"/>
<path d="M249.6 507.1h0.6v0.6h-0.6zM234.4 524.0h0.6v0.6h-0.6zM243.8 512.5h0.6v0.6h-0.6zM235.9 522.9h0.6v0.6h-0.6zM236.3 521.7h0.6v0.6h-0.6zM240.6 518.7h0.6v0.6h-0.6zM236.4 523.4h0.6v0.6h-0.6zM245.6 512.3h0.6v0.6h-0.6zM249.3 507.0h0.6v0.6h-0.6zM245.1 512.3h0.6v0.6h-0.6zM234.3 525.3h0.6v0.6h-0.6zM243.2 514.5h0.6v0.6h-0.6zM234.4 521.6h0.6v0.6h-0.6zM238.6 520.4h0.6v0.6h-0.6zM240.0 518.6h0.6v0.6h-0.6zM240.8 517.5h0.6v0.6h-0.6zM235.9 522.6h0.6v0.6h-0.6zM241.0 516.6h0.6v0.6h-0.6zM234.3 523.9h0.6v0.6h-0.6zM236.7 522.4h0.6v0.6h-0.6zM247.2 506.7h0.6v0.6h-0.6zM247.7 507.3h0.6v0.6h-0.6zM239.9 517.5h0.6v0.6h-0.6zM236.0 523.8h0.6v0.6h-0.6zM242.5 514.8h0.6v0.6h-0.6zM246.6 509.1h0.6v0.6h-0.6zM234.7 525.0h0.6v0.6h-0.6zM234.0 525.8h0.6v0.6h-0.6zM246.2 508.9h0.6v0.6h-0.6zM236.7 523.8h0.6v0.6h-0.6zM240.2 519.3h0.6v0.6h-0.6zM235.6 524.6h0.6v0.6h-0.6zM241.8 513.9h0.6v0.6h-0.6zM241.4 518.1h0.6v0.6h-0.6zM233.5 525.4h0.6v0.6h-0.6zM243.8 512.5h0.6v0.6h-0.6zM243.3 512.8h0.6v0.6h-0.6zM236.4 523.1h0.6v0.6h-0.6zM234.5 527.2h0.6v0.6h-0.6z" fill="#b8d898" opacity="0.75"/>
<path d="M160.5 582.3h0.7v0.7h-0.7zM173.9 570.6h0.7v0.7h-0.7zM177.4 574.2h0.7v0.7h-0.7zM166.3 578.6h0.7v0.7h-0.7zM177.3 573.7h0.7v0.7h-0.7zM178.9 574.4h0.7v0.7h-0.7zM159.9 580.2h0.7v0.7h-0.7zM179.7 570.8h0.7v0.7h-0.7zM178.3 576.6h0.7v0.7h-0.7zM163.0 575.3h0.7v0.7h-0.7zM184.3 573.0h0.7v0.7h-0.7zM172.7 573.6h0.7v0.7h-0.7zM168.5 573.1h0.7v0.7h-0.7zM164.4 582.0h0.7v0.7h-0.7zM165.4 579.0h0.7v0.7h-0.7zM180.4 575.3h0.7v0.7h-0.7zM175.3 574.3h0.7v0.7h-0.7zM174.0 578.1h0.7v0.7h-0.7zM165.2 580.1h0.7v0.7h-0.7zM170.7 580.6h0.7v0.7h-0.7zM178.2 572.6h0.7v0.7h-0.7zM165.7 582.3h0.7v0.7h-0.7zM176.9 574.4h0.7v0.7h-0.7zM160.5 577.3h0.7v0.7h-0.7zM167.8 577.4h0.7v0.7h-0.7zM168.8 571.2h0.7v0.7h-0.7zM176.8 569.2h0.7v0.7h-0.7zM177.1 573.0h0.7v0.7h-0.7zM175.6 572.9h0.7v0.7h-0.7zM180.9 578.9h0.7v0.7h-0.7zM168.3 575.5h0.7v0.7h-0.7zM164.4 580.6h0.7v0.7h-0.7zM177.6 573.6h0.7v0.7h-0.7zM181.9 573.5h0.7v0.7h-0.7zM165.3 581.7h0.7v0.7h-0.7zM176.8 576.8h0.7v0.7h-0.7zM179.7 571.3h0.7v0.7h-0.7zM174.8 579.5h0.7v0.7h-0.7zM164.3 576.9h0.7v0.7h-0.7zM172.5 576.2h0.7v0.7h-0.7zM168.7 574.0h0.7v0.7h-0.7zM174.3 575.9h0.7v0.7h-0.7zM175.3 574.8h0.7v0.7h-0.7zM181.8 574.7h0.7v0.7h-0.7zM172.4 571.1h0.7v0.7h-0.7zM175.5 576.5h0.7v0.7h-0.7zM159.3 579.7h0.7v0.7h-0.7zM168.8 578.3h0.7v0.7h-0.7zM169.9 573.1h0.7v0.7h-0.7zM173.9 575.9h0.7v0.7h-0.7zM163.5 581.2h0.7v0.7h-0.7zM164.9 582.2h0.7v0.7h-0.7zM179.2 570.5h0.7v0.7h-0.7zM176.4 575.4h0.7v0.7h-0.7zM162.3 580.9h0.7v0.7h-0.7zM168.7 576.2h0.7v0.7h-0.7zM176.4 576.9h0.7v0.7h-0.7zM161.0 579.7h0.7v0.7h-0.7zM179.0 569.8h0.7v0.7h-0.7zM167.1 579.1h0.7v0.7h-0.7zM180.9 576.2h0.7v0.7h-0.7zM171.0 574.7h0.7v0.7h-0.7zM165.5 575.2h0.7v0.7h-0.7zM164.6 579.7h0.7v0.7h-0.7zM182.4 578.4h0.7v0.7h-0.7zM166.9 576.8h0.7v0.7h-0.7zM176.2 576.6h0.7v0.7h-0.7zM172.2 577.9h0.7v0.7h-0.7zM175.8 576.5h0.7v0.7h-0.7zM176.0 576.0h0.7v0.7h-0.7zM162.1 581.2h0.7v0.7h-0.7zM167.6 576.4h0.7v0.7h-0.7zM157.8 576.9h0.7v0.7h-0.7zM167.4 579.9h0.7v0.7h-0.7zM157.7 581.5h0.7v0.7h-0.7zM163.8 582.7h0.7v0.7h-0.7zM163.5 582.7h0.7v0.7h-0.7zM164.4 581.5h0.7v0.7h-0.7zM172.7 575.9h0.7v0.7h-0.7zM176.3 571.4h0.7v0.7h-0.7zM182.8 577.4h0.7v0.7h-0.7zM170.7 578.2h0.7v0.7h-0.7zM178.1 574.5h0.7v0.7h-0.7zM167.8 577.8h0.7v0.7h-0.7zM177.7 576.0h0.7v0.7h-0.7zM167.3 582.3h0.7v0.7h-0.7zM173.0 583.3h0.7v0.7h-0.7zM169.9 577.4h0.7v0.7h-0.7zM172.7 575.4h0.7v0.7h-0.7zM169.2 573.9h0.7v0.7h-0.7zM160.6 579.4h0.7v0.7h-0.7zM176.4 579.1h0.7v0.7h-0.7zM179.2 567.5h0.7v0.7h-0.7zM168.7 577.2h0.7v0.7h-0.7zM159.4 576.2h0.7v0.7h-0.7zM161.3 581.5h0.7v0.7h-0.7zM169.9 578.7h0.7v0.7h-0.7zM169.7 571.4h0.7v0.7h-0.7zM167.8 577.4h0.7v0.7h-0.7zM179.9 575.5h0.7v0.7h-0.7zM173.4 575.8h0.7v0.7h-0.7zM179.1 570.9h0.7v0.7h-0.7zM180.4 583.4h0.7v0.7h-0.7zM170.2 583.8h0.7v0.7h-0.7zM164.2 579.9h0.7v0.7h-0.7zM176.3 575.6h0.7v0.7h-0.7zM162.9 580.0h0.7v0.7h-0.7zM172.2 578.7h0.7v0.7h-0.7zM171.0 574.9h0.7v0.7h-0.7zM169.7 583.8h0.7v0.7h-0.7zM164.8 582.6h0.7v0.7h-0.7zM172.5 575.5h0.7v0.7h-0.7zM166.3 582.4h0.7v0.7h-0.7zM164.2 580.3h0.7v0.7h-0.7zM177.9 570.3h0.7v0.7h-0.7zM167.8 578.1h0.7v0.7h-0.7zM161.7 580.5h0.7v0.7h-0.7zM159.3 583.5h0.7v0.7h-0.7zM182.0 570.5h0.7v0.7h-0.7zM173.6 572.8h0.7v0.7h-0.7zM172.0 575.3h0.7v0.7h-0.7zM162.6 576.4h0.7v0.7h-0.7zM182.2 570.1h0.7v0.7h-0.7zM168.8 582.3h0.7v0.7h-0.7zM173.3 579.8h0.7v0.7h-0.7zM165.1 581.6h0.7v0.7h-0.7zM170.1 575.7h0.7v0.7h-0.7zM173.0 572.5h0.7v0.7h-0.7zM173.8 574.9h0.7v0.7h-0.7zM167.6 573.4h0.7v0.7h-0.7zM176.2 581.4h0.7v0.7h-0.7zM176.5 576.9h0.7v0.7h-0.7zM180.6 575.1h0.7v0.7h-0.7zM181.5 571.4h0.7v0.7h-0.7zM172.5 577.6h0.7v0.7h-0.7zM177.1 575.7h0.7v0.7h-0.7zM163.9 580.3h0.7v0.7h-0.7zM159.9 581.8h0.7v0.7h-0.7zM169.0 579.3h0.7v0.7h-0.7zM170.2 580.1h0.7v0.7h-0.7zM159.1 580.1h0.7v0.7h-0.7zM171.9 577.1h0.7v0.7h-0.7zM174.7 570.8h0.7v0.7h-0.7zM176.2 574.6h0.7v0.7h-0.7zM175.1 576.2h0.7v0.7h-0.7zM172.6 570.8h0.7v0.7h-0.7zM176.5 572.4h0.7v0.7h-0.7zM165.5 579.1h0.7v0.7h-0.7zM163.0 579.7h0.7v0.7h-0.7zM163.9 583.5h0.7v0.7h-0.7z" fill="#e4bc70" opacity="0.85"/>
<polyline points="157.60,567.20 194.01,536.39 222.74,521.55" fill="none" stroke="#2a2a2a" stroke-width="0.65"/>
<polyline points="172.20,584.20 182.55,569.53 193.45,554.34 216.55,528.54 222.74,521.55 242.61,497.90" fill="none" stroke="#2a2a2a" stroke-width="0.65"/>
<path d="M157.6 497.9H250" stroke="#9a9a9a" stroke-width="1.8"/>
<path d="M250 497.0V584.2" stroke="#8a8a8a" stroke-width="1.5"/>
<path d="M157.6 497.0V584.8000000000001" stroke="#484848" stroke-width="1.15"/>
<path d="M157.0 584.2H250.75" stroke="#2a2a2a" stroke-width="1.25"/>
<path d="M157.60 584.2v2.0M157.6 584.20h-2.0M164.55 584.2v1.3M157.6 577.71h-1.3M168.62 584.2v1.3M157.6 573.91h-1.3M171.51 584.2v1.3M157.6 571.21h-1.3M173.75 584.2v1.3M157.6 569.12h-1.3M175.58 584.2v1.3M157.6 567.41h-1.3M177.12 584.2v1.3M157.6 565.97h-1.3M178.46 584.2v1.3M157.6 564.72h-1.3M179.64 584.2v1.3M157.6 563.61h-1.3M180.70 584.2v2.0M157.6 562.62h-2.0M187.65 584.2v1.3M157.6 556.13h-1.3M191.72 584.2v1.3M157.6 552.33h-1.3M194.61 584.2v1.3M157.6 549.64h-1.3M196.85 584.2v1.3M157.6 547.54h-1.3M198.68 584.2v1.3M157.6 545.84h-1.3M200.22 584.2v1.3M157.6 544.39h-1.3M201.56 584.2v1.3M157.6 543.14h-1.3M202.74 584.2v1.3M157.6 542.04h-1.3M203.80 584.2v2.0M157.6 541.05h-2.0M210.75 584.2v1.3M157.6 534.56h-1.3M214.82 584.2v1.3M157.6 530.76h-1.3M217.71 584.2v1.3M157.6 528.06h-1.3M219.95 584.2v1.3M157.6 525.97h-1.3M221.78 584.2v1.3M157.6 524.26h-1.3M223.32 584.2v1.3M157.6 522.82h-1.3M224.66 584.2v1.3M157.6 521.57h-1.3M225.84 584.2v1.3M157.6 520.46h-1.3M226.90 584.2v2.0M157.6 519.48h-2.0M233.85 584.2v1.3M157.6 512.98h-1.3M237.92 584.2v1.3M157.6 509.18h-1.3M240.81 584.2v1.3M157.6 506.49h-1.3M243.05 584.2v1.3M157.6 504.39h-1.3M244.88 584.2v1.3M157.6 502.69h-1.3M246.42 584.2v1.3M157.6 501.24h-1.3M247.76 584.2v1.3M157.6 499.99h-1.3M248.94 584.2v1.3M157.6 498.89h-1.3M250 584.2v2M157.6 497.9h-2" stroke="#333" stroke-width="0.8" fill="none"/>
<text x="157.3" y="590.5" font-size="4.6" fill="#3a3a3a" text-anchor="middle" font-family="Liberation Sans, sans-serif">10<tspan dy="-1.7" font-size="3.6">0</tspan></text>
<text transform="translate(154.3,584.6) rotate(-90)" font-size="4.6" fill="#3a3a3a" text-anchor="middle" font-family="Liberation Sans, sans-serif">10<tspan dy="-1.7" font-size="3.6">0</tspan></text>
<text x="180.4" y="590.5" font-size="4.6" fill="#3a3a3a" text-anchor="middle" font-family="Liberation Sans, sans-serif">10<tspan dy="-1.7" font-size="3.6">1</tspan></text>
<text transform="translate(154.3,563.0) rotate(-90)" font-size="4.6" fill="#3a3a3a" text-anchor="middle" font-family="Liberation Sans, sans-serif">10<tspan dy="-1.7" font-size="3.6">1</tspan></text>
<text x="203.5" y="590.5" font-size="4.6" fill="#3a3a3a" text-anchor="middle" font-family="Liberation Sans, sans-serif">10<tspan dy="-1.7" font-size="3.6">2</tspan></text>
<text transform="translate(154.3,541.4) rotate(-90)" font-size="4.6" fill="#3a3a3a" text-anchor="middle" font-family="Liberation Sans, sans-serif">10<tspan dy="-1.7" font-size="3.6">2</tspan></text>
<text x="226.6" y="590.5" font-size="4.6" fill="#3a3a3a" text-anchor="middle" font-family="Liberation Sans, sans-serif">10<tspan dy="-1.7" font-size="3.6">3</tspan></text>
<text transform="translate(154.3,519.9) rotate(-90)" font-size="4.6" fill="#3a3a3a" text-anchor="middle" font-family="Liberation Sans, sans-serif">10<tspan dy="-1.7" font-size="3.6">3</tspan></text>
<text x="249.7" y="590.5" font-size="4.6" fill="#3a3a3a" text-anchor="middle" font-family="Liberation Sans, sans-serif">10<tspan dy="-1.7" font-size="3.6">4</tspan></text>
<text transform="translate(154.3,498.3) rotate(-90)" font-size="4.6" fill="#3a3a3a" text-anchor="middle" font-family="Liberation Sans, sans-serif">10<tspan dy="-1.7" font-size="3.6">4</tspan></text>
<text x="203.8" y="594.7" font-size="3.9" fill="#444" text-anchor="middle" font-family="Liberation Sans, sans-serif">eGFP-FL1</text>
<text transform="translate(149.6,541.9) rotate(-90)" font-size="3.9" fill="#444" text-anchor="middle" font-family="Liberation Sans, sans-serif">DsRED-FL2</text>
<text x="226.4" y="560.9" font-size="4" fill="#333" text-anchor="middle" font-family="Liberation Sans, sans-serif">R3</text>
<text x="174.7" y="571.7" font-size="4" fill="#222" text-anchor="middle" font-family="Liberation Sans, sans-serif">R2</text>
<polygon points="271.84,583.51 271.30,583.95 271.82,582.64 271.30,582.52 271.30,581.91 271.30,581.25 271.30,580.57 271.30,580.46 271.83,580.97 271.64,580.95 272.35,580.38 272.29,580.10 272.97,580.37 272.81,578.97 274.33,578.22 275.17,577.07 276.06,576.67 276.10,575.47 277.02,574.60 278.54,573.86 278.75,572.31 280.06,571.97 280.33,570.76 281.66,569.84 282.56,569.15 282.95,568.68 284.07,568.33 284.32,567.67 285.34,566.57 286.62,566.32 287.40,565.88 287.79,564.60 289.14,563.88 289.42,563.17 290.94,563.12 291.72,562.58 292.65,561.24 293.13,560.73 293.85,559.69 294.90,558.18 296.38,557.36 297.85,557.18 298.34,555.55 298.91,555.05 300.30,554.09 301.47,553.44 302.48,552.19 302.65,551.67 304.05,550.71 305.19,549.75 305.74,549.08 307.11,548.46 307.66,547.19 309.21,546.77 309.80,544.98 310.57,544.67 311.33,543.20 313.05,543.24 313.06,541.92 314.55,540.89 314.89,540.50 316.61,539.39 316.80,538.56 317.76,538.36 318.66,536.88 320.40,535.93 320.62,535.08 321.24,535.13 322.52,534.32 322.35,534.51 323.18,533.64 323.39,533.11 324.88,532.55 324.43,533.13 325.47,533.22 325.34,533.20 325.82,532.45 326.01,532.81 326.64,532.14 322.80,536.62 319.46,540.11 316.47,543.16 313.14,547.02 310.70,550.32 307.31,554.13 304.75,557.08 303.13,559.03 301.41,562.19 300.10,564.46 297.35,567.17 296.20,569.83 294.87,571.67 293.04,574.60 290.69,576.57 289.09,578.99 287.38,581.17 285.50,584.00 283.29,584.00 281.40,584.00 278.27,584.00 276.47,584.00 273.97,584.00" fill="#df8f1e" opacity="1" stroke="#df8f1e" stroke-width="1.2" stroke-opacity="0.65" stroke-linejoin="round"/>
<polygon points="289.09,580.31 289.94,578.87 291.17,577.04 291.86,575.68 293.20,574.12 294.25,573.06 295.31,570.76 296.19,570.45 296.71,569.43 296.83,568.72 298.19,567.37 298.77,566.77 300.07,565.93 300.28,564.53 301.16,563.43 302.09,562.49 303.45,561.84 303.49,560.82 305.07,560.09 305.96,559.29 307.53,558.84 308.18,557.50 310.02,556.31 311.21,555.57 311.76,554.70 313.23,553.14 314.42,553.11 315.52,551.98 316.59,551.62 318.04,550.15 318.88,549.54 321.03,548.92 321.59,548.19 322.98,546.90 324.90,546.07 326.38,544.47 327.97,544.26 329.22,543.17 329.56,542.95 331.16,541.80 332.22,541.98 332.69,540.73 333.96,540.68 334.24,539.48 335.22,539.37 335.90,538.62 337.09,538.18 337.54,537.92 339.32,536.96 340.09,535.70 341.21,535.20 342.04,534.66 342.60,533.84 343.42,532.04 344.74,532.07 346.11,531.27 346.62,530.39 347.61,528.72 348.62,528.54 349.32,527.48 350.07,526.28 351.19,525.60 352.17,524.24 352.60,523.56 354.31,523.05 354.72,521.61 355.96,520.60 357.02,520.38 357.54,519.08 359.07,518.28 360.03,517.26 360.51,516.42 362.19,514.64 362.21,515.73 361.27,516.03 362.05,517.34 361.33,517.81 361.88,519.05 361.54,519.50 360.29,519.98 359.05,521.27 358.41,522.24 356.76,523.22 355.53,524.27 354.64,525.66 353.56,526.64 352.91,528.14 352.02,529.12 351.07,529.35 350.27,530.30 348.87,531.22 348.05,533.57 346.32,534.37 344.93,535.80 343.82,537.27 341.82,539.19 340.87,539.73 340.31,541.34 338.89,542.09 338.64,542.71 337.23,543.47 336.49,544.70 335.82,545.85 333.90,546.40 333.41,547.98 331.85,549.00 330.30,550.42 329.26,551.01 327.59,551.86 326.89,553.56 324.45,554.07 323.47,555.25 321.85,556.66 320.35,557.29 319.51,558.40 317.83,558.99 316.56,560.17 315.82,560.72 314.18,561.75 312.99,563.19 312.01,563.43 310.59,565.04 309.21,565.95 307.86,566.48 306.71,568.16 305.61,568.60 304.32,569.69 303.41,571.57 301.95,573.22 299.91,574.61 297.75,576.03 296.47,576.69 295.17,578.79 293.76,578.70 293.28,580.09 291.97,581.02 290.34,580.77 289.43,581.43 289.06,582.76 288.39,581.94 288.45,582.05 288.98,582.08 288.62,581.75 288.69,580.80" fill="#82f326" opacity="1" stroke="#82f326" stroke-width="1.2" stroke-opacity="0.65" stroke-linejoin="round"/>
<path d="M307.0 565.4h0.7v0.7h-0.7zM327.7 537.4h0.7v0.7h-0.7zM305.4 563.4h0.7v0.7h-0.7zM323.1 546.9h0.7v0.7h-0.7zM321.3 548.0h0.7v0.7h-0.7zM319.8 543.4h0.7v0.7h-0.7zM323.1 540.7h0.7v0.7h-0.7zM314.7 554.1h0.7v0.7h-0.7zM324.5 540.5h0.7v0.7h-0.7zM301.4 564.1h0.7v0.7h-0.7zM300.3 563.1h0.7v0.7h-0.7zM318.1 552.4h0.7v0.7h-0.7zM309.6 552.7h0.7v0.7h-0.7zM315.3 549.2h0.7v0.7h-0.7zM329.8 538.5h0.7v0.7h-0.7zM306.8 559.1h0.7v0.7h-0.7zM326.4 537.6h0.7v0.7h-0.7zM326.5 543.4h0.7v0.7h-0.7zM308.3 556.2h0.7v0.7h-0.7zM319.3 553.1h0.7v0.7h-0.7zM312.4 557.8h0.7v0.7h-0.7zM304.8 563.0h0.7v0.7h-0.7zM303.4 559.8h0.7v0.7h-0.7zM323.4 540.0h0.7v0.7h-0.7zM329.7 542.4h0.7v0.7h-0.7zM301.7 565.0h0.7v0.7h-0.7zM321.0 543.4h0.7v0.7h-0.7zM306.0 556.5h0.7v0.7h-0.7zM298.0 564.2h0.7v0.7h-0.7zM304.1 559.3h0.7v0.7h-0.7zM314.5 553.9h0.7v0.7h-0.7zM325.5 539.8h0.7v0.7h-0.7zM322.7 541.6h0.7v0.7h-0.7zM319.6 545.4h0.7v0.7h-0.7zM315.5 555.9h0.7v0.7h-0.7zM302.8 562.1h0.7v0.7h-0.7zM324.2 538.0h0.7v0.7h-0.7zM301.2 561.5h0.7v0.7h-0.7zM306.4 559.3h0.7v0.7h-0.7zM316.7 555.5h0.7v0.7h-0.7zM327.6 542.1h0.7v0.7h-0.7zM311.9 550.2h0.7v0.7h-0.7zM310.3 556.6h0.7v0.7h-0.7zM303.3 562.0h0.7v0.7h-0.7zM302.2 561.6h0.7v0.7h-0.7zM306.0 561.2h0.7v0.7h-0.7zM321.9 549.3h0.7v0.7h-0.7zM308.0 558.9h0.7v0.7h-0.7zM327.8 536.3h0.7v0.7h-0.7zM316.0 549.9h0.7v0.7h-0.7zM305.3 562.1h0.7v0.7h-0.7zM318.8 546.0h0.7v0.7h-0.7zM315.0 548.8h0.7v0.7h-0.7zM327.8 543.5h0.7v0.7h-0.7zM314.0 551.9h0.7v0.7h-0.7zM300.2 563.4h0.7v0.7h-0.7zM304.7 561.3h0.7v0.7h-0.7zM320.1 544.6h0.7v0.7h-0.7zM320.9 545.8h0.7v0.7h-0.7zM329.6 541.2h0.7v0.7h-0.7zM325.1 541.3h0.7v0.7h-0.7zM309.6 558.2h0.7v0.7h-0.7zM301.8 566.3h0.7v0.7h-0.7zM318.7 549.9h0.7v0.7h-0.7zM312.6 555.6h0.7v0.7h-0.7zM317.0 549.0h0.7v0.7h-0.7zM307.9 555.5h0.7v0.7h-0.7zM327.5 545.2h0.7v0.7h-0.7zM303.6 565.2h0.7v0.7h-0.7zM303.7 561.0h0.7v0.7h-0.7zM321.7 540.3h0.7v0.7h-0.7zM329.5 540.4h0.7v0.7h-0.7zM320.5 546.7h0.7v0.7h-0.7zM313.3 554.4h0.7v0.7h-0.7zM317.9 550.9h0.7v0.7h-0.7zM321.7 539.2h0.7v0.7h-0.7zM299.6 567.8h0.7v0.7h-0.7zM327.6 546.2h0.7v0.7h-0.7zM308.7 557.5h0.7v0.7h-0.7zM310.6 557.2h0.7v0.7h-0.7zM323.3 548.8h0.7v0.7h-0.7zM330.6 541.3h0.7v0.7h-0.7zM308.1 560.8h0.7v0.7h-0.7zM325.3 546.1h0.7v0.7h-0.7zM325.6 536.5h0.7v0.7h-0.7zM303.1 559.6h0.7v0.7h-0.7zM310.8 555.7h0.7v0.7h-0.7zM303.7 563.9h0.7v0.7h-0.7zM316.6 549.0h0.7v0.7h-0.7zM311.0 551.4h0.7v0.7h-0.7zM310.6 555.1h0.7v0.7h-0.7zM299.1 565.9h0.7v0.7h-0.7zM321.3 549.4h0.7v0.7h-0.7zM308.1 561.3h0.7v0.7h-0.7zM308.2 559.0h0.7v0.7h-0.7zM303.3 557.0h0.7v0.7h-0.7zM306.9 553.9h0.7v0.7h-0.7zM317.0 550.5h0.7v0.7h-0.7zM300.8 565.3h0.7v0.7h-0.7zM316.2 549.3h0.7v0.7h-0.7zM315.5 551.7h0.7v0.7h-0.7zM302.7 564.2h0.7v0.7h-0.7zM324.9 538.9h0.7v0.7h-0.7zM304.8 562.4h0.7v0.7h-0.7zM322.9 541.8h0.7v0.7h-0.7zM319.8 550.1h0.7v0.7h-0.7zM311.7 559.5h0.7v0.7h-0.7zM318.5 546.5h0.7v0.7h-0.7zM315.4 549.2h0.7v0.7h-0.7zM301.7 564.1h0.7v0.7h-0.7zM304.2 561.4h0.7v0.7h-0.7zM298.6 558.0h0.7v0.7h-0.7zM308.3 560.5h0.7v0.7h-0.7zM302.5 562.5h0.7v0.7h-0.7zM312.0 555.3h0.7v0.7h-0.7zM319.9 551.2h0.7v0.7h-0.7zM299.1 564.0h0.7v0.7h-0.7zM303.2 559.1h0.7v0.7h-0.7zM321.2 548.8h0.7v0.7h-0.7zM321.5 544.0h0.7v0.7h-0.7zM315.5 555.5h0.7v0.7h-0.7zM313.8 544.3h0.7v0.7h-0.7zM299.3 561.8h0.7v0.7h-0.7zM301.8 564.3h0.7v0.7h-0.7zM315.6 548.4h0.7v0.7h-0.7zM316.8 549.7h0.7v0.7h-0.7zM309.4 558.7h0.7v0.7h-0.7zM302.0 568.6h0.7v0.7h-0.7zM323.4 541.4h0.7v0.7h-0.7zM324.2 541.1h0.7v0.7h-0.7zM309.9 555.9h0.7v0.7h-0.7zM297.2 569.1h0.7v0.7h-0.7zM326.0 542.9h0.7v0.7h-0.7zM324.0 542.4h0.7v0.7h-0.7zM323.9 535.3h0.7v0.7h-0.7zM316.4 553.3h0.7v0.7h-0.7zM311.9 554.9h0.7v0.7h-0.7zM312.5 551.6h0.7v0.7h-0.7zM304.3 558.9h0.7v0.7h-0.7zM310.4 553.8h0.7v0.7h-0.7zM313.8 555.4h0.7v0.7h-0.7zM320.0 544.4h0.7v0.7h-0.7zM308.6 558.6h0.7v0.7h-0.7zM309.3 558.3h0.7v0.7h-0.7zM320.8 544.5h0.7v0.7h-0.7zM320.9 548.4h0.7v0.7h-0.7zM308.6 558.6h0.7v0.7h-0.7zM320.8 544.0h0.7v0.7h-0.7zM306.4 557.2h0.7v0.7h-0.7zM316.4 545.2h0.7v0.7h-0.7zM308.9 559.9h0.7v0.7h-0.7zM302.5 565.3h0.7v0.7h-0.7zM322.6 547.1h0.7v0.7h-0.7zM305.0 561.2h0.7v0.7h-0.7zM322.0 541.8h0.7v0.7h-0.7zM309.4 558.8h0.7v0.7h-0.7zM323.3 544.1h0.7v0.7h-0.7zM322.1 543.1h0.7v0.7h-0.7zM309.5 557.7h0.7v0.7h-0.7zM302.5 567.1h0.7v0.7h-0.7z" fill="#b8ec88" opacity="0.85"/>
<polyline points="271.30,567.10 307.47,536.47 336.02,521.71" fill="none" stroke="#2a2a2a" stroke-width="0.65"/>
<polyline points="285.80,584.00 296.09,569.41 306.92,554.31 329.87,528.66 336.02,521.71 355.76,498.20" fill="none" stroke="#2a2a2a" stroke-width="0.65"/>
<path d="M271.3 498.2H363.1" stroke="#9a9a9a" stroke-width="1.8"/>
<path d="M363.1 497.3V584" stroke="#7a7a7a" stroke-width="1.8"/>
<path d="M271.3 497.3V584.6" stroke="#484848" stroke-width="1.15"/>
<path d="M270.7 584H364.0" stroke="#2a2a2a" stroke-width="1.25"/>
<path d="M271.30 584v2.0M271.3 584.00h-2.0M278.21 584v1.3M271.3 577.54h-1.3M282.25 584v1.3M271.3 573.77h-1.3M285.12 584v1.3M271.3 571.09h-1.3M287.34 584v1.3M271.3 569.01h-1.3M289.16 584v1.3M271.3 567.31h-1.3M290.70 584v1.3M271.3 565.87h-1.3M292.03 584v1.3M271.3 564.63h-1.3M293.20 584v1.3M271.3 563.53h-1.3M294.25 584v2.0M271.3 562.55h-2.0M301.16 584v1.3M271.3 556.09h-1.3M305.20 584v1.3M271.3 552.32h-1.3M308.07 584v1.3M271.3 549.64h-1.3M310.29 584v1.3M271.3 547.56h-1.3M312.11 584v1.3M271.3 545.86h-1.3M313.65 584v1.3M271.3 544.42h-1.3M314.98 584v1.3M271.3 543.18h-1.3M316.15 584v1.3M271.3 542.08h-1.3M317.20 584v2.0M271.3 541.10h-2.0M324.11 584v1.3M271.3 534.64h-1.3M328.15 584v1.3M271.3 530.87h-1.3M331.02 584v1.3M271.3 528.19h-1.3M333.24 584v1.3M271.3 526.11h-1.3M335.06 584v1.3M271.3 524.41h-1.3M336.60 584v1.3M271.3 522.97h-1.3M337.93 584v1.3M271.3 521.73h-1.3M339.10 584v1.3M271.3 520.63h-1.3M340.15 584v2.0M271.3 519.65h-2.0M347.06 584v1.3M271.3 513.19h-1.3M351.10 584v1.3M271.3 509.42h-1.3M353.97 584v1.3M271.3 506.74h-1.3M356.19 584v1.3M271.3 504.66h-1.3M358.01 584v1.3M271.3 502.96h-1.3M359.55 584v1.3M271.3 501.52h-1.3M360.88 584v1.3M271.3 500.28h-1.3M362.05 584v1.3M271.3 499.18h-1.3M363.1 584v2M271.3 498.2h-2" stroke="#333" stroke-width="0.8" fill="none"/>
<text x="271.0" y="590.3" font-size="4.6" fill="#3a3a3a" text-anchor="middle" font-family="Liberation Sans, sans-serif">10<tspan dy="-1.7" font-size="3.6">0</tspan></text>
<text transform="translate(268.0,584.4) rotate(-90)" font-size="4.6" fill="#3a3a3a" text-anchor="middle" font-family="Liberation Sans, sans-serif">10<tspan dy="-1.7" font-size="3.6">0</tspan></text>
<text x="293.9" y="590.3" font-size="4.6" fill="#3a3a3a" text-anchor="middle" font-family="Liberation Sans, sans-serif">10<tspan dy="-1.7" font-size="3.6">1</tspan></text>
<text transform="translate(268.0,562.9) rotate(-90)" font-size="4.6" fill="#3a3a3a" text-anchor="middle" font-family="Liberation Sans, sans-serif">10<tspan dy="-1.7" font-size="3.6">1</tspan></text>
<text x="316.9" y="590.3" font-size="4.6" fill="#3a3a3a" text-anchor="middle" font-family="Liberation Sans, sans-serif">10<tspan dy="-1.7" font-size="3.6">2</tspan></text>
<text transform="translate(268.0,541.5) rotate(-90)" font-size="4.6" fill="#3a3a3a" text-anchor="middle" font-family="Liberation Sans, sans-serif">10<tspan dy="-1.7" font-size="3.6">2</tspan></text>
<text x="339.9" y="590.3" font-size="4.6" fill="#3a3a3a" text-anchor="middle" font-family="Liberation Sans, sans-serif">10<tspan dy="-1.7" font-size="3.6">3</tspan></text>
<text transform="translate(268.0,520.0) rotate(-90)" font-size="4.6" fill="#3a3a3a" text-anchor="middle" font-family="Liberation Sans, sans-serif">10<tspan dy="-1.7" font-size="3.6">3</tspan></text>
<text x="362.8" y="590.3" font-size="4.6" fill="#3a3a3a" text-anchor="middle" font-family="Liberation Sans, sans-serif">10<tspan dy="-1.7" font-size="3.6">4</tspan></text>
<text transform="translate(268.0,498.6) rotate(-90)" font-size="4.6" fill="#3a3a3a" text-anchor="middle" font-family="Liberation Sans, sans-serif">10<tspan dy="-1.7" font-size="3.6">4</tspan></text>
<text x="317.2" y="594.5" font-size="3.9" fill="#444" text-anchor="middle" font-family="Liberation Sans, sans-serif">eGFP-FL1</text>
<text transform="translate(263.3,542.0) rotate(-90)" font-size="3.9" fill="#444" text-anchor="middle" font-family="Liberation Sans, sans-serif">DsRED-FL2</text>
<text x="339.7" y="560.8" font-size="4" fill="#333" text-anchor="middle" font-family="Liberation Sans, sans-serif">R3</text>
<text x="288.3" y="571.6" font-size="4" fill="#222" text-anchor="middle" font-family="Liberation Sans, sans-serif">R2</text>
<polygon points="458.62,568.06 458.91,568.38 458.73,567.40 459.40,567.33 458.97,567.62 459.62,566.83 460.08,566.43 461.87,565.11 464.68,563.27 467.09,562.59 469.47,561.06 472.21,559.09 473.97,558.15 477.15,555.72 479.22,554.28 482.53,551.60 484.70,549.93 486.94,547.34 489.47,545.95 491.49,544.68 492.67,543.26 494.60,542.34 496.37,541.73 497.81,540.69 499.67,539.43 500.42,538.41 501.32,537.09 502.53,537.14 502.70,536.36 503.68,535.83 503.96,534.45 505.36,533.48 507.18,532.49 508.14,530.79 509.63,529.28 510.24,528.73 511.65,527.75 512.47,526.02 513.82,524.37 514.90,523.28 516.41,522.45 517.77,521.13 519.20,520.18 520.49,518.41 520.95,517.34 521.77,516.31 522.58,514.92 523.72,512.95 524.98,511.77 524.62,512.34 525.36,513.70 524.43,515.06 524.89,515.79 524.67,517.39 524.68,518.01 524.55,519.17 523.13,520.19 522.60,521.93 521.55,522.89 520.50,524.51 519.94,525.77 518.47,526.84 516.71,527.47 516.36,529.11 514.67,530.09 513.06,530.94 511.35,532.57 510.64,533.39 509.30,534.49 507.98,535.75 506.58,537.12 505.34,538.15 503.98,539.88 502.60,540.74 502.20,542.16 501.14,543.58 500.09,544.19 498.95,545.99 498.10,547.09 496.48,547.90 495.75,549.41 494.01,549.79 492.57,550.84 491.53,552.93 489.91,553.32 488.77,554.12 487.48,555.37 485.31,556.64 484.51,557.47 483.51,558.06 482.43,558.61 481.21,559.80 479.00,560.84 477.78,561.62 477.14,562.72 475.38,563.95 474.25,565.65 473.64,566.68 472.43,567.31 470.92,568.22 469.76,569.85 468.24,570.33 466.23,572.13 465.82,572.45 465.25,572.61 464.15,573.59 463.32,574.23 461.75,575.40 460.93,575.82 461.05,574.88 460.40,574.60 459.40,573.98 459.71,573.71 458.73,573.41 457.71,573.24 458.50,572.58 458.07,571.10 458.06,570.85 458.40,569.72 458.26,568.67" fill="#82f326" opacity="1" stroke="#82f326" stroke-width="1.2" stroke-opacity="0.65" stroke-linejoin="round"/>
<path d="M452.8 579.9h0.6v0.6h-0.6zM447.3 569.4h0.6v0.6h-0.6zM440.4 566.0h0.6v0.6h-0.6zM443.5 570.1h0.6v0.6h-0.6zM458.1 572.7h0.6v0.6h-0.6zM447.4 564.5h0.6v0.6h-0.6zM450.0 572.8h0.6v0.6h-0.6zM451.8 568.6h0.6v0.6h-0.6zM441.9 561.3h0.6v0.6h-0.6zM447.1 572.5h0.6v0.6h-0.6zM452.2 576.5h0.6v0.6h-0.6zM455.7 580.1h0.6v0.6h-0.6zM439.2 567.7h0.6v0.6h-0.6zM443.3 571.8h0.6v0.6h-0.6zM450.3 572.6h0.6v0.6h-0.6zM460.0 580.4h0.6v0.6h-0.6zM449.6 574.1h0.6v0.6h-0.6zM444.1 565.4h0.6v0.6h-0.6zM455.9 583.0h0.6v0.6h-0.6zM448.7 579.6h0.6v0.6h-0.6zM434.4 561.6h0.6v0.6h-0.6zM446.4 559.4h0.6v0.6h-0.6zM439.4 569.8h0.6v0.6h-0.6zM449.5 573.3h0.6v0.6h-0.6zM442.0 575.7h0.6v0.6h-0.6zM448.8 563.7h0.6v0.6h-0.6zM440.9 569.1h0.6v0.6h-0.6zM452.4 576.2h0.6v0.6h-0.6zM459.9 576.9h0.6v0.6h-0.6zM439.3 562.1h0.6v0.6h-0.6zM455.9 581.8h0.6v0.6h-0.6zM446.1 565.9h0.6v0.6h-0.6zM439.6 576.1h0.6v0.6h-0.6zM453.9 578.2h0.6v0.6h-0.6zM451.9 568.9h0.6v0.6h-0.6zM447.7 573.4h0.6v0.6h-0.6zM451.6 581.0h0.6v0.6h-0.6zM462.7 580.5h0.6v0.6h-0.6zM459.3 578.2h0.6v0.6h-0.6zM445.4 567.7h0.6v0.6h-0.6zM452.2 576.2h0.6v0.6h-0.6zM454.1 572.7h0.6v0.6h-0.6zM448.5 568.9h0.6v0.6h-0.6zM434.1 568.9h0.6v0.6h-0.6zM450.4 577.0h0.6v0.6h-0.6zM435.6 568.2h0.6v0.6h-0.6zM440.6 566.5h0.6v0.6h-0.6zM468.4 580.4h0.6v0.6h-0.6zM449.0 576.4h0.6v0.6h-0.6zM447.3 574.8h0.6v0.6h-0.6zM443.4 573.4h0.6v0.6h-0.6zM450.1 583.1h0.6v0.6h-0.6zM445.9 571.5h0.6v0.6h-0.6zM451.1 570.3h0.6v0.6h-0.6zM448.7 568.5h0.6v0.6h-0.6zM435.9 568.3h0.6v0.6h-0.6zM463.0 576.8h0.6v0.6h-0.6zM449.8 574.9h0.6v0.6h-0.6zM452.4 570.5h0.6v0.6h-0.6zM451.2 572.7h0.6v0.6h-0.6zM463.0 581.7h0.6v0.6h-0.6zM460.0 576.8h0.6v0.6h-0.6zM440.1 568.7h0.6v0.6h-0.6zM442.1 571.0h0.6v0.6h-0.6zM442.6 574.0h0.6v0.6h-0.6zM443.8 563.9h0.6v0.6h-0.6zM444.6 580.1h0.6v0.6h-0.6zM439.2 565.2h0.6v0.6h-0.6zM453.7 583.0h0.6v0.6h-0.6zM459.6 579.2h0.6v0.6h-0.6zM446.6 571.6h0.6v0.6h-0.6zM441.0 570.6h0.6v0.6h-0.6zM446.8 579.3h0.6v0.6h-0.6zM443.8 578.1h0.6v0.6h-0.6zM442.2 562.3h0.6v0.6h-0.6zM448.4 574.0h0.6v0.6h-0.6zM448.8 568.5h0.6v0.6h-0.6zM451.1 569.7h0.6v0.6h-0.6zM473.8 569.8h0.6v0.6h-0.6zM455.7 569.2h0.6v0.6h-0.6zM442.3 565.5h0.6v0.6h-0.6zM441.5 568.0h0.6v0.6h-0.6z" fill="#c8902a" opacity="0.75"/>
<path d="M459.9 573.1h0.75v0.75h-0.75zM468.4 574.6h0.75v0.75h-0.75zM464.0 571.0h0.75v0.75h-0.75zM458.3 577.8h0.75v0.75h-0.75zM455.0 579.6h0.75v0.75h-0.75zM464.0 567.6h0.75v0.75h-0.75zM460.0 573.0h0.75v0.75h-0.75zM478.1 566.2h0.75v0.75h-0.75zM464.3 568.6h0.75v0.75h-0.75zM455.2 571.9h0.75v0.75h-0.75zM475.1 560.9h0.75v0.75h-0.75zM457.1 573.4h0.75v0.75h-0.75zM452.0 582.1h0.75v0.75h-0.75zM472.2 564.5h0.75v0.75h-0.75zM456.9 583.3h0.75v0.75h-0.75zM453.8 580.0h0.75v0.75h-0.75zM453.0 576.6h0.75v0.75h-0.75zM465.0 575.8h0.75v0.75h-0.75zM456.4 581.0h0.75v0.75h-0.75zM446.7 582.9h0.75v0.75h-0.75zM453.0 578.5h0.75v0.75h-0.75zM453.0 580.9h0.75v0.75h-0.75zM457.6 578.2h0.75v0.75h-0.75zM461.5 568.9h0.75v0.75h-0.75zM467.0 575.6h0.75v0.75h-0.75zM453.4 579.1h0.75v0.75h-0.75zM468.2 565.6h0.75v0.75h-0.75zM463.2 571.5h0.75v0.75h-0.75zM461.6 577.6h0.75v0.75h-0.75zM453.0 573.9h0.75v0.75h-0.75zM463.5 566.4h0.75v0.75h-0.75zM472.5 563.4h0.75v0.75h-0.75zM460.9 575.2h0.75v0.75h-0.75zM467.0 563.4h0.75v0.75h-0.75zM471.6 563.7h0.75v0.75h-0.75zM460.5 571.4h0.75v0.75h-0.75zM447.1 575.2h0.75v0.75h-0.75zM452.1 570.5h0.75v0.75h-0.75zM456.1 583.1h0.75v0.75h-0.75zM470.8 572.6h0.75v0.75h-0.75zM461.5 569.8h0.75v0.75h-0.75zM456.5 578.6h0.75v0.75h-0.75zM451.1 580.7h0.75v0.75h-0.75zM452.0 579.6h0.75v0.75h-0.75zM463.5 570.1h0.75v0.75h-0.75zM463.3 576.3h0.75v0.75h-0.75zM456.3 577.8h0.75v0.75h-0.75zM458.8 579.0h0.75v0.75h-0.75zM473.2 570.3h0.75v0.75h-0.75zM451.6 582.2h0.75v0.75h-0.75zM462.8 570.3h0.75v0.75h-0.75zM474.3 563.0h0.75v0.75h-0.75zM467.0 573.4h0.75v0.75h-0.75zM454.8 576.8h0.75v0.75h-0.75zM458.7 576.8h0.75v0.75h-0.75zM464.4 579.4h0.75v0.75h-0.75zM466.1 568.8h0.75v0.75h-0.75zM471.7 564.6h0.75v0.75h-0.75zM475.0 572.7h0.75v0.75h-0.75zM463.3 580.5h0.75v0.75h-0.75zM470.8 567.7h0.75v0.75h-0.75zM460.4 575.4h0.75v0.75h-0.75zM464.2 568.1h0.75v0.75h-0.75zM466.9 571.5h0.75v0.75h-0.75zM458.5 563.3h0.75v0.75h-0.75zM445.7 582.4h0.75v0.75h-0.75zM471.8 569.9h0.75v0.75h-0.75zM457.3 571.0h0.75v0.75h-0.75zM466.3 571.1h0.75v0.75h-0.75zM458.2 576.0h0.75v0.75h-0.75zM473.4 571.1h0.75v0.75h-0.75zM468.1 573.7h0.75v0.75h-0.75zM453.7 573.7h0.75v0.75h-0.75zM461.0 577.3h0.75v0.75h-0.75zM473.1 558.2h0.75v0.75h-0.75zM451.5 577.6h0.75v0.75h-0.75zM458.6 574.3h0.75v0.75h-0.75zM463.9 564.4h0.75v0.75h-0.75zM474.9 574.2h0.75v0.75h-0.75zM449.8 573.1h0.75v0.75h-0.75zM450.4 582.7h0.75v0.75h-0.75zM468.3 577.9h0.75v0.75h-0.75zM466.1 579.8h0.75v0.75h-0.75zM470.3 578.6h0.75v0.75h-0.75zM468.0 569.9h0.75v0.75h-0.75zM470.1 567.3h0.75v0.75h-0.75zM467.9 564.9h0.75v0.75h-0.75zM472.2 569.1h0.75v0.75h-0.75zM471.7 567.8h0.75v0.75h-0.75zM462.0 564.7h0.75v0.75h-0.75zM462.1 576.2h0.75v0.75h-0.75zM467.5 579.4h0.75v0.75h-0.75zM470.1 574.6h0.75v0.75h-0.75zM470.2 576.4h0.75v0.75h-0.75zM466.4 572.0h0.75v0.75h-0.75zM457.0 573.2h0.75v0.75h-0.75zM469.2 571.2h0.75v0.75h-0.75zM459.6 574.9h0.75v0.75h-0.75zM451.8 578.8h0.75v0.75h-0.75zM467.6 573.3h0.75v0.75h-0.75zM467.8 569.0h0.75v0.75h-0.75zM463.8 575.7h0.75v0.75h-0.75zM457.1 572.1h0.75v0.75h-0.75zM461.2 568.9h0.75v0.75h-0.75zM450.4 581.9h0.75v0.75h-0.75zM456.2 574.8h0.75v0.75h-0.75zM460.2 572.7h0.75v0.75h-0.75zM474.7 566.5h0.75v0.75h-0.75zM464.7 571.0h0.75v0.75h-0.75zM459.7 580.6h0.75v0.75h-0.75zM469.5 573.8h0.75v0.75h-0.75zM468.0 567.5h0.75v0.75h-0.75zM471.8 566.9h0.75v0.75h-0.75zM448.4 575.0h0.75v0.75h-0.75zM468.6 565.3h0.75v0.75h-0.75zM460.4 578.2h0.75v0.75h-0.75zM468.1 570.3h0.75v0.75h-0.75zM460.0 569.4h0.75v0.75h-0.75zM458.4 576.9h0.75v0.75h-0.75zM458.5 575.0h0.75v0.75h-0.75zM455.1 575.4h0.75v0.75h-0.75zM459.8 573.8h0.75v0.75h-0.75zM462.6 571.4h0.75v0.75h-0.75zM456.6 572.7h0.75v0.75h-0.75zM455.0 579.9h0.75v0.75h-0.75zM453.8 578.7h0.75v0.75h-0.75zM475.3 566.7h0.75v0.75h-0.75zM459.4 577.2h0.75v0.75h-0.75zM457.7 571.9h0.75v0.75h-0.75zM468.5 569.1h0.75v0.75h-0.75zM464.0 583.6h0.75v0.75h-0.75zM459.0 571.9h0.75v0.75h-0.75zM453.7 582.1h0.75v0.75h-0.75zM465.3 574.4h0.75v0.75h-0.75zM457.0 579.3h0.75v0.75h-0.75zM459.5 568.6h0.75v0.75h-0.75zM456.2 574.0h0.75v0.75h-0.75zM460.8 573.5h0.75v0.75h-0.75zM448.5 575.5h0.75v0.75h-0.75zM465.2 572.5h0.75v0.75h-0.75zM461.6 579.2h0.75v0.75h-0.75zM464.8 573.2h0.75v0.75h-0.75zM467.5 575.8h0.75v0.75h-0.75zM463.1 576.6h0.75v0.75h-0.75zM456.3 580.5h0.75v0.75h-0.75zM461.9 571.4h0.75v0.75h-0.75zM459.8 571.6h0.75v0.75h-0.75zM460.4 575.1h0.75v0.75h-0.75zM460.4 577.9h0.75v0.75h-0.75zM460.7 572.4h0.75v0.75h-0.75zM458.5 584.1h0.75v0.75h-0.75zM442.6 584.1h0.75v0.75h-0.75zM466.7 566.9h0.75v0.75h-0.75zM454.3 575.1h0.75v0.75h-0.75zM462.0 576.3h0.75v0.75h-0.75zM467.6 562.8h0.75v0.75h-0.75zM459.1 576.0h0.75v0.75h-0.75zM474.6 569.6h0.75v0.75h-0.75zM459.2 572.6h0.75v0.75h-0.75zM455.8 573.8h0.75v0.75h-0.75zM465.7 570.6h0.75v0.75h-0.75zM468.1 574.6h0.75v0.75h-0.75zM464.1 567.2h0.75v0.75h-0.75zM464.9 568.6h0.75v0.75h-0.75zM456.5 570.1h0.75v0.75h-0.75zM453.1 582.0h0.75v0.75h-0.75zM466.0 578.7h0.75v0.75h-0.75zM452.7 577.7h0.75v0.75h-0.75zM463.4 571.5h0.75v0.75h-0.75zM456.4 571.5h0.75v0.75h-0.75zM462.2 582.9h0.75v0.75h-0.75zM474.9 567.9h0.75v0.75h-0.75zM458.6 580.8h0.75v0.75h-0.75zM477.7 569.5h0.75v0.75h-0.75zM465.8 577.8h0.75v0.75h-0.75zM456.6 579.5h0.75v0.75h-0.75zM460.1 577.9h0.75v0.75h-0.75zM451.7 575.9h0.75v0.75h-0.75zM449.8 576.0h0.75v0.75h-0.75zM461.0 578.2h0.75v0.75h-0.75zM463.2 568.3h0.75v0.75h-0.75zM463.1 582.8h0.75v0.75h-0.75zM471.2 577.8h0.75v0.75h-0.75zM476.0 569.9h0.75v0.75h-0.75zM447.8 576.5h0.75v0.75h-0.75zM451.8 576.5h0.75v0.75h-0.75zM451.3 575.9h0.75v0.75h-0.75zM474.3 572.9h0.75v0.75h-0.75zM450.7 582.9h0.75v0.75h-0.75zM450.9 579.0h0.75v0.75h-0.75zM472.4 573.0h0.75v0.75h-0.75zM471.2 570.9h0.75v0.75h-0.75zM457.6 572.1h0.75v0.75h-0.75zM449.3 582.5h0.75v0.75h-0.75zM466.2 574.8h0.75v0.75h-0.75zM445.1 576.0h0.75v0.75h-0.75zM456.9 574.4h0.75v0.75h-0.75zM465.1 569.6h0.75v0.75h-0.75zM477.1 571.6h0.75v0.75h-0.75zM463.5 576.4h0.75v0.75h-0.75zM459.2 574.4h0.75v0.75h-0.75zM465.2 572.6h0.75v0.75h-0.75zM461.9 571.7h0.75v0.75h-0.75zM466.9 574.3h0.75v0.75h-0.75zM455.8 575.9h0.75v0.75h-0.75zM469.4 573.9h0.75v0.75h-0.75zM476.9 570.6h0.75v0.75h-0.75zM465.6 570.5h0.75v0.75h-0.75zM465.4 570.0h0.75v0.75h-0.75zM468.0 570.6h0.75v0.75h-0.75zM470.4 569.2h0.75v0.75h-0.75zM459.9 579.4h0.75v0.75h-0.75zM462.9 570.8h0.75v0.75h-0.75zM459.6 575.4h0.75v0.75h-0.75zM472.9 580.2h0.75v0.75h-0.75zM460.0 577.9h0.75v0.75h-0.75zM472.4 572.4h0.75v0.75h-0.75zM458.7 574.5h0.75v0.75h-0.75zM462.1 572.1h0.75v0.75h-0.75zM466.6 570.2h0.75v0.75h-0.75zM449.6 579.5h0.75v0.75h-0.75zM466.5 570.3h0.75v0.75h-0.75zM464.3 573.9h0.75v0.75h-0.75zM451.9 580.3h0.75v0.75h-0.75zM462.0 568.9h0.75v0.75h-0.75zM464.6 564.9h0.75v0.75h-0.75zM456.4 574.6h0.75v0.75h-0.75zM456.5 569.7h0.75v0.75h-0.75zM469.9 569.5h0.75v0.75h-0.75zM460.0 582.4h0.75v0.75h-0.75zM462.3 565.3h0.75v0.75h-0.75zM452.9 570.7h0.75v0.75h-0.75zM461.4 567.8h0.75v0.75h-0.75zM461.3 569.3h0.75v0.75h-0.75zM449.1 581.5h0.75v0.75h-0.75zM456.0 573.9h0.75v0.75h-0.75zM455.2 577.5h0.75v0.75h-0.75zM472.2 567.7h0.75v0.75h-0.75zM462.5 573.6h0.75v0.75h-0.75zM461.1 575.1h0.75v0.75h-0.75zM457.3 574.8h0.75v0.75h-0.75zM452.9 578.2h0.75v0.75h-0.75zM457.6 576.1h0.75v0.75h-0.75zM455.3 584.1h0.75v0.75h-0.75zM463.7 570.7h0.75v0.75h-0.75zM457.8 570.8h0.75v0.75h-0.75zM473.2 572.5h0.75v0.75h-0.75zM470.9 563.0h0.75v0.75h-0.75zM459.6 581.8h0.75v0.75h-0.75zM453.9 575.2h0.75v0.75h-0.75zM468.0 569.0h0.75v0.75h-0.75zM468.2 575.6h0.75v0.75h-0.75zM468.4 572.8h0.75v0.75h-0.75zM454.4 575.1h0.75v0.75h-0.75zM460.9 572.9h0.75v0.75h-0.75zM461.2 579.2h0.75v0.75h-0.75zM468.5 572.3h0.75v0.75h-0.75zM447.7 582.9h0.75v0.75h-0.75zM463.6 573.1h0.75v0.75h-0.75zM450.5 578.9h0.75v0.75h-0.75zM450.4 571.5h0.75v0.75h-0.75zM461.3 579.2h0.75v0.75h-0.75zM456.7 575.4h0.75v0.75h-0.75zM447.5 581.0h0.75v0.75h-0.75zM454.6 581.1h0.75v0.75h-0.75zM452.8 581.9h0.75v0.75h-0.75zM463.0 573.0h0.75v0.75h-0.75zM460.2 567.5h0.75v0.75h-0.75zM462.3 574.0h0.75v0.75h-0.75zM465.5 566.3h0.75v0.75h-0.75zM458.3 578.1h0.75v0.75h-0.75zM465.6 573.3h0.75v0.75h-0.75zM457.5 574.4h0.75v0.75h-0.75zM450.8 584.0h0.75v0.75h-0.75zM468.6 573.7h0.75v0.75h-0.75zM462.6 576.5h0.75v0.75h-0.75zM457.1 574.1h0.75v0.75h-0.75zM457.4 580.0h0.75v0.75h-0.75zM452.2 583.1h0.75v0.75h-0.75zM464.8 562.4h0.75v0.75h-0.75zM465.5 572.8h0.75v0.75h-0.75zM453.5 584.0h0.75v0.75h-0.75zM464.5 567.4h0.75v0.75h-0.75zM462.4 577.3h0.75v0.75h-0.75zM468.9 579.7h0.75v0.75h-0.75zM457.0 576.3h0.75v0.75h-0.75zM459.2 578.4h0.75v0.75h-0.75zM458.9 578.8h0.75v0.75h-0.75zM473.8 569.0h0.75v0.75h-0.75zM464.5 574.6h0.75v0.75h-0.75zM453.3 580.2h0.75v0.75h-0.75zM462.1 574.6h0.75v0.75h-0.75zM462.6 574.0h0.75v0.75h-0.75zM449.6 575.1h0.75v0.75h-0.75zM465.0 581.3h0.75v0.75h-0.75zM454.0 582.6h0.75v0.75h-0.75zM456.3 574.8h0.75v0.75h-0.75zM469.8 568.2h0.75v0.75h-0.75zM451.5 580.3h0.75v0.75h-0.75zM460.7 581.1h0.75v0.75h-0.75zM469.8 572.5h0.75v0.75h-0.75zM468.2 567.4h0.75v0.75h-0.75zM466.4 567.7h0.75v0.75h-0.75zM451.6 576.5h0.75v0.75h-0.75zM455.2 583.0h0.75v0.75h-0.75zM449.0 583.0h0.75v0.75h-0.75zM456.2 577.5h0.75v0.75h-0.75zM475.4 565.8h0.75v0.75h-0.75zM463.2 568.8h0.75v0.75h-0.75zM452.7 581.6h0.75v0.75h-0.75zM467.6 572.3h0.75v0.75h-0.75zM467.2 577.3h0.75v0.75h-0.75zM470.1 562.3h0.75v0.75h-0.75zM461.4 582.2h0.75v0.75h-0.75zM462.8 574.0h0.75v0.75h-0.75zM455.8 575.6h0.75v0.75h-0.75zM466.1 572.6h0.75v0.75h-0.75zM461.2 566.0h0.75v0.75h-0.75zM456.5 572.7h0.75v0.75h-0.75zM469.5 564.0h0.75v0.75h-0.75zM467.2 571.4h0.75v0.75h-0.75zM455.6 578.5h0.75v0.75h-0.75zM462.8 568.8h0.75v0.75h-0.75zM457.6 576.3h0.75v0.75h-0.75zM453.8 579.4h0.75v0.75h-0.75zM450.4 574.7h0.75v0.75h-0.75zM464.6 561.4h0.75v0.75h-0.75zM454.3 581.0h0.75v0.75h-0.75zM470.2 574.1h0.75v0.75h-0.75zM469.9 574.3h0.75v0.75h-0.75zM469.9 564.5h0.75v0.75h-0.75zM465.9 567.1h0.75v0.75h-0.75zM458.9 571.5h0.75v0.75h-0.75zM462.8 572.3h0.75v0.75h-0.75zM453.2 572.3h0.75v0.75h-0.75zM462.3 573.7h0.75v0.75h-0.75zM468.9 564.1h0.75v0.75h-0.75zM471.1 572.0h0.75v0.75h-0.75zM467.7 567.8h0.75v0.75h-0.75zM471.3 566.1h0.75v0.75h-0.75zM457.6 582.1h0.75v0.75h-0.75zM456.9 581.1h0.75v0.75h-0.75zM458.5 576.4h0.75v0.75h-0.75zM459.1 574.6h0.75v0.75h-0.75zM457.0 581.4h0.75v0.75h-0.75zM470.1 560.4h0.75v0.75h-0.75zM454.5 583.0h0.75v0.75h-0.75zM471.4 568.7h0.75v0.75h-0.75zM458.3 578.8h0.75v0.75h-0.75zM447.9 580.2h0.75v0.75h-0.75zM459.8 569.8h0.75v0.75h-0.75zM456.2 571.3h0.75v0.75h-0.75zM461.4 571.9h0.75v0.75h-0.75zM460.9 578.5h0.75v0.75h-0.75zM466.9 579.7h0.75v0.75h-0.75zM474.1 563.0h0.75v0.75h-0.75zM462.4 577.2h0.75v0.75h-0.75zM468.4 570.6h0.75v0.75h-0.75zM469.4 577.7h0.75v0.75h-0.75zM460.7 574.8h0.75v0.75h-0.75zM463.8 571.7h0.75v0.75h-0.75zM460.9 562.6h0.75v0.75h-0.75z" fill="#8ee64c" opacity="0.85"/>
<path d="M464.5 575.9h0.8v0.8h-0.8zM456.2 572.4h0.8v0.8h-0.8zM462.7 581.3h0.8v0.8h-0.8zM453.8 579.3h0.8v0.8h-0.8zM465.2 575.0h0.8v0.8h-0.8zM461.7 579.7h0.8v0.8h-0.8zM453.7 582.8h0.8v0.8h-0.8zM455.0 576.8h0.8v0.8h-0.8zM455.6 581.2h0.8v0.8h-0.8zM459.3 577.6h0.8v0.8h-0.8zM459.5 581.7h0.8v0.8h-0.8zM460.1 571.9h0.8v0.8h-0.8zM460.2 574.1h0.8v0.8h-0.8zM463.0 577.5h0.8v0.8h-0.8zM461.5 574.5h0.8v0.8h-0.8zM460.0 576.2h0.8v0.8h-0.8zM465.1 575.6h0.8v0.8h-0.8zM462.9 582.2h0.8v0.8h-0.8zM459.0 581.1h0.8v0.8h-0.8zM459.1 577.5h0.8v0.8h-0.8zM454.3 580.3h0.8v0.8h-0.8zM458.1 575.5h0.8v0.8h-0.8zM462.0 575.1h0.8v0.8h-0.8zM458.6 574.5h0.8v0.8h-0.8zM452.1 583.1h0.8v0.8h-0.8zM461.1 577.2h0.8v0.8h-0.8zM454.1 580.7h0.8v0.8h-0.8zM448.4 583.4h0.8v0.8h-0.8zM455.5 582.4h0.8v0.8h-0.8zM451.8 583.4h0.8v0.8h-0.8zM457.3 578.1h0.8v0.8h-0.8zM452.6 579.6h0.8v0.8h-0.8zM465.9 577.2h0.8v0.8h-0.8zM459.0 577.7h0.8v0.8h-0.8zM459.6 574.3h0.8v0.8h-0.8zM456.7 575.1h0.8v0.8h-0.8zM458.9 581.5h0.8v0.8h-0.8zM466.0 572.6h0.8v0.8h-0.8zM458.0 579.3h0.8v0.8h-0.8zM459.5 575.1h0.8v0.8h-0.8zM462.9 576.5h0.8v0.8h-0.8zM458.8 575.8h0.8v0.8h-0.8zM462.5 577.3h0.8v0.8h-0.8zM465.0 574.9h0.8v0.8h-0.8zM458.1 574.7h0.8v0.8h-0.8zM462.3 574.3h0.8v0.8h-0.8zM457.3 582.5h0.8v0.8h-0.8zM450.2 581.6h0.8v0.8h-0.8zM457.4 578.6h0.8v0.8h-0.8zM460.2 577.0h0.8v0.8h-0.8zM458.4 582.3h0.8v0.8h-0.8zM461.2 574.9h0.8v0.8h-0.8zM452.7 576.9h0.8v0.8h-0.8zM455.3 579.0h0.8v0.8h-0.8zM456.0 579.3h0.8v0.8h-0.8zM468.3 571.1h0.8v0.8h-0.8zM460.1 574.8h0.8v0.8h-0.8zM456.1 578.8h0.8v0.8h-0.8zM458.8 578.9h0.8v0.8h-0.8zM461.7 574.4h0.8v0.8h-0.8zM456.3 580.3h0.8v0.8h-0.8zM467.0 571.3h0.8v0.8h-0.8zM452.7 583.1h0.8v0.8h-0.8zM462.3 572.0h0.8v0.8h-0.8zM461.4 575.9h0.8v0.8h-0.8zM457.5 577.6h0.8v0.8h-0.8zM459.1 583.1h0.8v0.8h-0.8zM454.8 581.6h0.8v0.8h-0.8zM458.8 576.3h0.8v0.8h-0.8zM454.1 571.8h0.8v0.8h-0.8zM467.3 572.8h0.8v0.8h-0.8zM454.6 579.9h0.8v0.8h-0.8zM453.0 582.5h0.8v0.8h-0.8zM458.7 574.0h0.8v0.8h-0.8zM458.9 575.7h0.8v0.8h-0.8zM457.5 574.9h0.8v0.8h-0.8zM460.0 579.5h0.8v0.8h-0.8zM458.1 574.9h0.8v0.8h-0.8zM460.1 578.1h0.8v0.8h-0.8zM457.3 580.4h0.8v0.8h-0.8zM460.0 572.7h0.8v0.8h-0.8zM454.8 575.9h0.8v0.8h-0.8zM460.0 580.4h0.8v0.8h-0.8zM457.3 580.5h0.8v0.8h-0.8zM457.4 570.6h0.8v0.8h-0.8zM455.1 584.1h0.8v0.8h-0.8zM461.3 576.5h0.8v0.8h-0.8zM455.5 574.7h0.8v0.8h-0.8zM464.9 579.3h0.8v0.8h-0.8zM462.0 576.5h0.8v0.8h-0.8zM455.1 579.4h0.8v0.8h-0.8zM453.7 582.3h0.8v0.8h-0.8zM454.8 581.4h0.8v0.8h-0.8zM454.6 580.9h0.8v0.8h-0.8zM462.0 580.3h0.8v0.8h-0.8zM460.4 576.1h0.8v0.8h-0.8zM458.4 578.8h0.8v0.8h-0.8zM458.2 575.8h0.8v0.8h-0.8zM451.4 581.4h0.8v0.8h-0.8zM457.4 574.1h0.8v0.8h-0.8zM457.7 579.4h0.8v0.8h-0.8zM465.5 571.0h0.8v0.8h-0.8zM454.7 580.2h0.8v0.8h-0.8zM462.7 573.2h0.8v0.8h-0.8zM462.2 577.8h0.8v0.8h-0.8zM460.3 579.2h0.8v0.8h-0.8zM455.2 580.0h0.8v0.8h-0.8zM454.3 576.2h0.8v0.8h-0.8zM461.6 579.1h0.8v0.8h-0.8zM455.5 582.5h0.8v0.8h-0.8zM461.5 577.8h0.8v0.8h-0.8z" fill="#80e040" opacity="0.8"/>
<path d="M443.7 582.9h0.8v0.8h-0.8zM435.5 582.7h0.8v0.8h-0.8zM435.8 582.7h0.8v0.8h-0.8zM443.4 582.8h0.8v0.8h-0.8zM449.0 583.1h0.8v0.8h-0.8zM443.5 582.0h0.8v0.8h-0.8zM446.0 582.8h0.8v0.8h-0.8zM445.4 582.7h0.8v0.8h-0.8zM446.5 583.3h0.8v0.8h-0.8zM441.5 583.5h0.8v0.8h-0.8zM437.9 582.5h0.8v0.8h-0.8zM441.0 582.4h0.8v0.8h-0.8zM450.6 582.9h0.8v0.8h-0.8zM438.4 582.6h0.8v0.8h-0.8zM448.9 583.0h0.8v0.8h-0.8zM434.5 583.0h0.8v0.8h-0.8zM439.7 583.1h0.8v0.8h-0.8zM435.8 583.2h0.8v0.8h-0.8zM439.5 582.9h0.8v0.8h-0.8zM440.6 583.0h0.8v0.8h-0.8zM443.6 582.9h0.8v0.8h-0.8zM439.8 583.4h0.8v0.8h-0.8zM442.2 582.9h0.8v0.8h-0.8zM436.7 583.2h0.8v0.8h-0.8zM440.0 583.5h0.8v0.8h-0.8zM440.5 582.5h0.8v0.8h-0.8zM444.0 582.5h0.8v0.8h-0.8zM440.6 583.1h0.8v0.8h-0.8zM442.7 582.8h0.8v0.8h-0.8zM445.8 583.3h0.8v0.8h-0.8z" fill="#d89a30" opacity="0.9"/>
<path d="M485.6 545.7h0.6v0.6h-0.6zM484.8 545.9h0.6v0.6h-0.6zM478.5 547.1h0.6v0.6h-0.6zM479.5 552.4h0.6v0.6h-0.6zM474.6 551.7h0.6v0.6h-0.6zM498.1 538.3h0.6v0.6h-0.6zM501.5 538.5h0.6v0.6h-0.6zM491.8 542.0h0.6v0.6h-0.6zM484.5 548.6h0.6v0.6h-0.6zM478.5 553.6h0.6v0.6h-0.6zM494.1 540.8h0.6v0.6h-0.6zM489.5 543.3h0.6v0.6h-0.6zM486.0 545.6h0.6v0.6h-0.6zM488.5 540.4h0.6v0.6h-0.6zM505.1 534.6h0.6v0.6h-0.6zM503.7 537.5h0.6v0.6h-0.6zM476.9 548.9h0.6v0.6h-0.6zM488.8 543.6h0.6v0.6h-0.6zM496.5 538.7h0.6v0.6h-0.6zM505.6 535.6h0.6v0.6h-0.6zM508.3 535.1h0.6v0.6h-0.6zM489.3 546.5h0.6v0.6h-0.6zM505.5 537.4h0.6v0.6h-0.6zM507.6 533.5h0.6v0.6h-0.6zM476.2 550.2h0.6v0.6h-0.6zM500.8 539.1h0.6v0.6h-0.6zM509.1 534.6h0.6v0.6h-0.6zM478.0 548.0h0.6v0.6h-0.6zM505.3 538.9h0.6v0.6h-0.6zM483.0 547.7h0.6v0.6h-0.6zM473.6 553.1h0.6v0.6h-0.6zM486.3 544.8h0.6v0.6h-0.6zM490.7 542.3h0.6v0.6h-0.6zM492.1 541.9h0.6v0.6h-0.6zM501.3 536.3h0.6v0.6h-0.6zM479.7 550.0h0.6v0.6h-0.6zM500.2 539.5h0.6v0.6h-0.6zM505.1 538.6h0.6v0.6h-0.6zM493.5 539.2h0.6v0.6h-0.6zM495.2 541.9h0.6v0.6h-0.6z" fill="#c0e8a0" opacity="0.7"/>
<polyline points="433.60,567.20 469.81,536.39 498.39,521.55" fill="none" stroke="#2a2a2a" stroke-width="0.65"/>
<polyline points="448.12,584.20 458.41,569.53 469.26,554.34 492.23,528.54 498.39,521.55 518.15,497.90" fill="none" stroke="#2a2a2a" stroke-width="0.65"/>
<path d="M433.6 497.9H525.5" stroke="#a8a8a8" stroke-width="1.8"/>
<path d="M525.5 497.0V584.2" stroke="#333" stroke-width="1.2"/>
<path d="M433.6 497.0V584.8000000000001" stroke="#484848" stroke-width="1.15"/>
<path d="M433.0 584.2H526.1" stroke="#2a2a2a" stroke-width="1.25"/>
<path d="M433.60 584.2v2.0M433.6 584.20h-2.0M440.52 584.2v1.3M433.6 577.71h-1.3M444.56 584.2v1.3M433.6 573.91h-1.3M447.43 584.2v1.3M433.6 571.21h-1.3M449.66 584.2v1.3M433.6 569.12h-1.3M451.48 584.2v1.3M433.6 567.41h-1.3M453.02 584.2v1.3M433.6 565.97h-1.3M454.35 584.2v1.3M433.6 564.72h-1.3M455.52 584.2v1.3M433.6 563.61h-1.3M456.58 584.2v2.0M433.6 562.62h-2.0M463.49 584.2v1.3M433.6 556.13h-1.3M467.54 584.2v1.3M433.6 552.33h-1.3M470.41 584.2v1.3M433.6 549.64h-1.3M472.63 584.2v1.3M433.6 547.54h-1.3M474.45 584.2v1.3M433.6 545.84h-1.3M475.99 584.2v1.3M433.6 544.39h-1.3M477.32 584.2v1.3M433.6 543.14h-1.3M478.50 584.2v1.3M433.6 542.04h-1.3M479.55 584.2v2.0M433.6 541.05h-2.0M486.47 584.2v1.3M433.6 534.56h-1.3M490.51 584.2v1.3M433.6 530.76h-1.3M493.38 584.2v1.3M433.6 528.06h-1.3M495.61 584.2v1.3M433.6 525.97h-1.3M497.43 584.2v1.3M433.6 524.26h-1.3M498.97 584.2v1.3M433.6 522.82h-1.3M500.30 584.2v1.3M433.6 521.57h-1.3M501.47 584.2v1.3M433.6 520.46h-1.3M502.52 584.2v2.0M433.6 519.48h-2.0M509.44 584.2v1.3M433.6 512.98h-1.3M513.49 584.2v1.3M433.6 509.18h-1.3M516.36 584.2v1.3M433.6 506.49h-1.3M518.58 584.2v1.3M433.6 504.39h-1.3M520.40 584.2v1.3M433.6 502.69h-1.3M521.94 584.2v1.3M433.6 501.24h-1.3M523.27 584.2v1.3M433.6 499.99h-1.3M524.45 584.2v1.3M433.6 498.89h-1.3M525.5 584.2v2M433.6 497.9h-2" stroke="#333" stroke-width="0.8" fill="none"/>
<text x="433.3" y="590.5" font-size="4.6" fill="#3a3a3a" text-anchor="middle" font-family="Liberation Sans, sans-serif">10<tspan dy="-1.7" font-size="3.6">0</tspan></text>
<text transform="translate(430.3,584.6) rotate(-90)" font-size="4.6" fill="#3a3a3a" text-anchor="middle" font-family="Liberation Sans, sans-serif">10<tspan dy="-1.7" font-size="3.6">0</tspan></text>
<text x="456.3" y="590.5" font-size="4.6" fill="#3a3a3a" text-anchor="middle" font-family="Liberation Sans, sans-serif">10<tspan dy="-1.7" font-size="3.6">1</tspan></text>
<text transform="translate(430.3,563.0) rotate(-90)" font-size="4.6" fill="#3a3a3a" text-anchor="middle" font-family="Liberation Sans, sans-serif">10<tspan dy="-1.7" font-size="3.6">1</tspan></text>
<text x="479.2" y="590.5" font-size="4.6" fill="#3a3a3a" text-anchor="middle" font-family="Liberation Sans, sans-serif">10<tspan dy="-1.7" font-size="3.6">2</tspan></text>
<text transform="translate(430.3,541.4) rotate(-90)" font-size="4.6" fill="#3a3a3a" text-anchor="middle" font-family="Liberation Sans, sans-serif">10<tspan dy="-1.7" font-size="3.6">2</tspan></text>
<text x="502.2" y="590.5" font-size="4.6" fill="#3a3a3a" text-anchor="middle" font-family="Liberation Sans, sans-serif">10<tspan dy="-1.7" font-size="3.6">3</tspan></text>
<text transform="translate(430.3,519.9) rotate(-90)" font-size="4.6" fill="#3a3a3a" text-anchor="middle" font-family="Liberation Sans, sans-serif">10<tspan dy="-1.7" font-size="3.6">3</tspan></text>
<text x="525.2" y="590.5" font-size="4.6" fill="#3a3a3a" text-anchor="middle" font-family="Liberation Sans, sans-serif">10<tspan dy="-1.7" font-size="3.6">4</tspan></text>
<text transform="translate(430.3,498.3) rotate(-90)" font-size="4.6" fill="#3a3a3a" text-anchor="middle" font-family="Liberation Sans, sans-serif">10<tspan dy="-1.7" font-size="3.6">4</tspan></text>
<text x="479.6" y="594.7" font-size="3.9" fill="#444" text-anchor="middle" font-family="Liberation Sans, sans-serif">eGFP-FL1</text>
<text transform="translate(425.6,541.9) rotate(-90)" font-size="3.9" fill="#444" text-anchor="middle" font-family="Liberation Sans, sans-serif">DsRED-FL2</text>
<text x="502.1" y="560.9" font-size="4" fill="#333" text-anchor="middle" font-family="Liberation Sans, sans-serif">R3</text>
<text x="450.6" y="571.7" font-size="4" fill="#222" text-anchor="middle" font-family="Liberation Sans, sans-serif">R2</text>
</svg></body></html>
